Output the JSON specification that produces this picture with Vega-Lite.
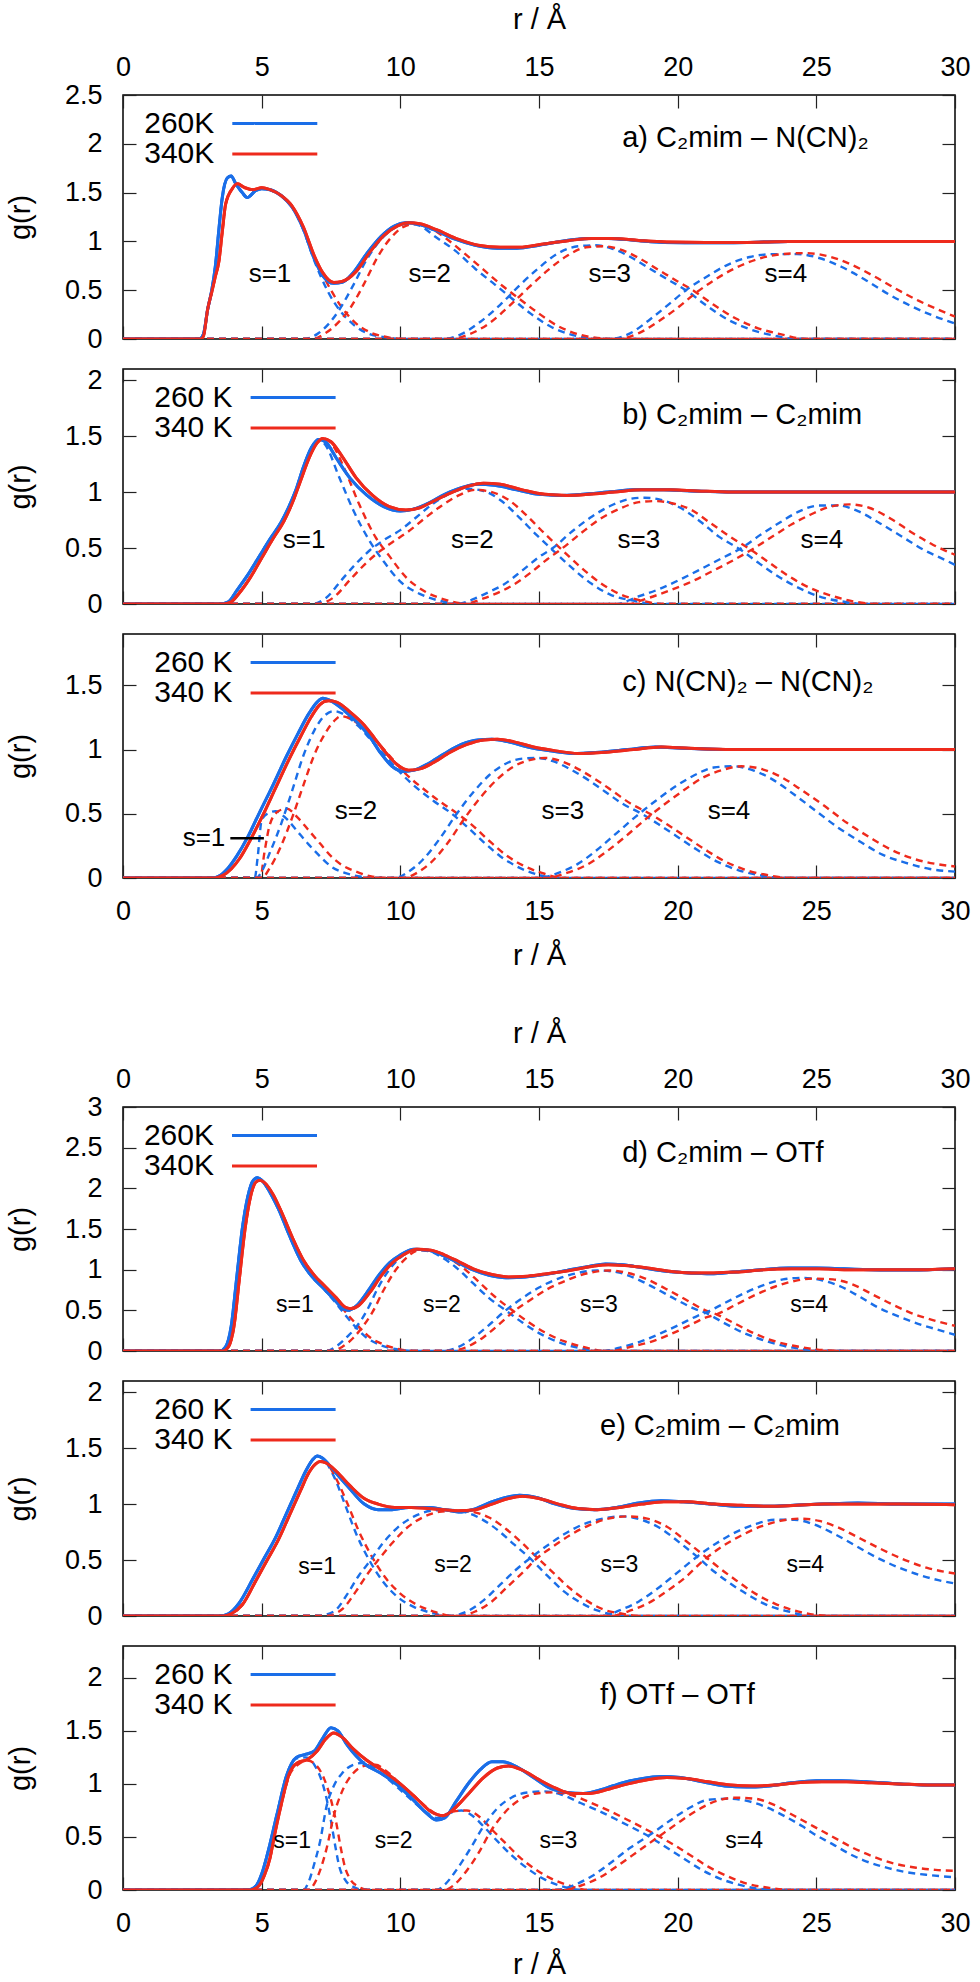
{
"$schema":"https://vega.github.io/schema/vega-lite/v6.json",
"padding":{"left":5,"top":4,"right":5,"bottom":0},
"background":"white",
"bounds":"flush",
"spacing":30,
"datasets":{
"t":[
{"p":"a","k":"title","r":18.0,"g":2.06,"t":"a) C₂mim – N(CN)₂"},
{"p":"a","k":"s","r":5.3,"g":0.67,"t":"s=1"},{"p":"a","k":"s","r":11.06,"g":0.67,"t":"s=2"},{"p":"a","k":"s","r":17.55,"g":0.67,"t":"s=3"},{"p":"a","k":"s","r":23.9,"g":0.67,"t":"s=4"},
{"p":"b","k":"title","r":18.0,"g":1.69,"t":"b) C₂mim – C₂mim"},
{"p":"b","k":"s","r":6.53,"g":0.575,"t":"s=1"},{"p":"b","k":"s","r":12.6,"g":0.575,"t":"s=2"},{"p":"b","k":"s","r":18.6,"g":0.575,"t":"s=3"},{"p":"b","k":"s","r":25.2,"g":0.575,"t":"s=4"},
{"p":"c","k":"title","r":18.0,"g":1.53,"t":"c) N(CN)₂ – N(CN)₂"},
{"p":"c","k":"s","r":2.92,"g":0.31,"t":"s=1"},{"p":"c","k":"s","r":8.4,"g":0.52,"t":"s=2"},{"p":"c","k":"s","r":15.86,"g":0.52,"t":"s=3"},{"p":"c","k":"s","r":21.85,"g":0.52,"t":"s=4"},
{"p":"c","k":"ptr","r":3.87,"r2":5.08,"g":0.31,"t":""},
{"p":"d","k":"title","r":18.0,"g":2.44,"t":"d) C₂mim – OTf"},
{"p":"d","k":"s","r":6.2,"g":0.57,"t":"s=1"},{"p":"d","k":"s","r":11.5,"g":0.57,"t":"s=2"},{"p":"d","k":"s","r":17.16,"g":0.57,"t":"s=3"},{"p":"d","k":"s","r":24.74,"g":0.57,"t":"s=4"},
{"p":"e","k":"title","r":17.2,"g":1.70,"t":"e) C₂mim – C₂mim"},
{"p":"e","k":"s","r":7.0,"g":0.44,"t":"s=1"},{"p":"e","k":"s","r":11.9,"g":0.46,"t":"s=2"},{"p":"e","k":"s","r":17.9,"g":0.46,"t":"s=3"},{"p":"e","k":"s","r":24.6,"g":0.46,"t":"s=4"},
{"p":"f","k":"title","r":17.2,"g":1.84,"t":"f) OTf – OTf"},
{"p":"f","k":"s","r":6.1,"g":0.46,"t":"s=1"},{"p":"f","k":"s","r":9.76,"g":0.46,"t":"s=2"},{"p":"f","k":"s","r":15.7,"g":0.46,"t":"s=3"},{"p":"f","k":"s","r":22.4,"g":0.46,"t":"s=4"}
],
"c":[
{"p":"a","T":"260K","s":0,"r":0,"g":0},{"p":"a","T":"260K","s":0,"r":2.75,"g":0},{"p":"a","T":"260K","s":0,"r":2.9,"g":0.05},{"p":"a","T":"260K","s":0,"r":3.05,"g":0.3},{"p":"a","T":"260K","s":0,"r":3.2,"g":0.5},{"p":"a","T":"260K","s":0,"r":3.34,"g":0.77},{"p":"a","T":"260K","s":0,"r":3.45,"g":1.1},{"p":"a","T":"260K","s":0,"r":3.58,"g":1.45},{"p":"a","T":"260K","s":0,"r":3.76,"g":1.65},{"p":"a","T":"260K","s":0,"r":3.9,"g":1.67},{"p":"a","T":"260K","s":0,"r":4.05,"g":1.6},{"p":"a","T":"260K","s":0,"r":4.3,"g":1.5},{"p":"a","T":"260K","s":0,"r":4.48,"g":1.45},{"p":"a","T":"260K","s":0,"r":4.78,"g":1.52},{"p":"a","T":"260K","s":0,"r":5.0,"g":1.54},{"p":"a","T":"260K","s":0,"r":5.3,"g":1.53},{"p":"a","T":"260K","s":0,"r":5.7,"g":1.47},{"p":"a","T":"260K","s":0,"r":6.1,"g":1.35},{"p":"a","T":"260K","s":0,"r":6.5,"g":1.13},{"p":"a","T":"260K","s":0,"r":6.9,"g":0.82},{"p":"a","T":"260K","s":0,"r":7.2,"g":0.65},{"p":"a","T":"260K","s":0,"r":7.6,"g":0.57},{"p":"a","T":"260K","s":0,"r":7.9,"g":0.58},{"p":"a","T":"260K","s":0,"r":8.3,"g":0.68},{"p":"a","T":"260K","s":0,"r":8.8,"g":0.88},{"p":"a","T":"260K","s":0,"r":9.3,"g":1.05},{"p":"a","T":"260K","s":0,"r":9.8,"g":1.16},{"p":"a","T":"260K","s":0,"r":10.2,"g":1.19},{"p":"a","T":"260K","s":0,"r":10.6,"g":1.18},{"p":"a","T":"260K","s":0,"r":11.2,"g":1.12},{"p":"a","T":"260K","s":0,"r":12.0,"g":1.02},{"p":"a","T":"260K","s":0,"r":12.7,"g":0.96},{"p":"a","T":"260K","s":0,"r":13.5,"g":0.93},{"p":"a","T":"260K","s":0,"r":14.2,"g":0.93},{"p":"a","T":"260K","s":0,"r":15.0,"g":0.96},{"p":"a","T":"260K","s":0,"r":16.0,"g":1.01},{"p":"a","T":"260K","s":0,"r":16.8,"g":1.03},{"p":"a","T":"260K","s":0,"r":17.5,"g":1.03},{"p":"a","T":"260K","s":0,"r":18.5,"g":1.01},{"p":"a","T":"260K","s":0,"r":19.5,"g":0.99},{"p":"a","T":"260K","s":0,"r":21,"g":0.985},{"p":"a","T":"260K","s":0,"r":22.5,"g":0.99},{"p":"a","T":"260K","s":0,"r":24,"g":1.0},{"p":"a","T":"260K","s":0,"r":26,"g":1.0},{"p":"a","T":"260K","s":0,"r":28,"g":1.0},{"p":"a","T":"260K","s":0,"r":30,"g":1.0},
{"p":"a","T":"340K","s":0,"r":0,"g":0},{"p":"a","T":"340K","s":0,"r":2.8,"g":0},{"p":"a","T":"340K","s":0,"r":2.9,"g":0.03},{"p":"a","T":"340K","s":0,"r":3.05,"g":0.3},{"p":"a","T":"340K","s":0,"r":3.2,"g":0.48},{"p":"a","T":"340K","s":0,"r":3.33,"g":0.64},{"p":"a","T":"340K","s":0,"r":3.46,"g":0.8},{"p":"a","T":"340K","s":0,"r":3.58,"g":1.1},{"p":"a","T":"340K","s":0,"r":3.7,"g":1.38},{"p":"a","T":"340K","s":0,"r":3.94,"g":1.54},{"p":"a","T":"340K","s":0,"r":4.12,"g":1.59},{"p":"a","T":"340K","s":0,"r":4.4,"g":1.55},{"p":"a","T":"340K","s":0,"r":4.7,"g":1.53},{"p":"a","T":"340K","s":0,"r":5.0,"g":1.55},{"p":"a","T":"340K","s":0,"r":5.3,"g":1.53},{"p":"a","T":"340K","s":0,"r":5.7,"g":1.47},{"p":"a","T":"340K","s":0,"r":6.1,"g":1.36},{"p":"a","T":"340K","s":0,"r":6.5,"g":1.15},{"p":"a","T":"340K","s":0,"r":6.9,"g":0.85},{"p":"a","T":"340K","s":0,"r":7.2,"g":0.68},{"p":"a","T":"340K","s":0,"r":7.6,"g":0.58},{"p":"a","T":"340K","s":0,"r":7.9,"g":0.59},{"p":"a","T":"340K","s":0,"r":8.4,"g":0.69},{"p":"a","T":"340K","s":0,"r":8.9,"g":0.89},{"p":"a","T":"340K","s":0,"r":9.4,"g":1.06},{"p":"a","T":"340K","s":0,"r":9.9,"g":1.16},{"p":"a","T":"340K","s":0,"r":10.3,"g":1.19},{"p":"a","T":"340K","s":0,"r":10.7,"g":1.18},{"p":"a","T":"340K","s":0,"r":11.3,"g":1.12},{"p":"a","T":"340K","s":0,"r":12.1,"g":1.02},{"p":"a","T":"340K","s":0,"r":12.8,"g":0.96},{"p":"a","T":"340K","s":0,"r":13.6,"g":0.94},{"p":"a","T":"340K","s":0,"r":14.3,"g":0.94},{"p":"a","T":"340K","s":0,"r":15.1,"g":0.97},{"p":"a","T":"340K","s":0,"r":16.1,"g":1.01},{"p":"a","T":"340K","s":0,"r":16.9,"g":1.03},{"p":"a","T":"340K","s":0,"r":17.6,"g":1.03},{"p":"a","T":"340K","s":0,"r":18.6,"g":1.01},{"p":"a","T":"340K","s":0,"r":19.6,"g":0.995},{"p":"a","T":"340K","s":0,"r":21,"g":0.99},{"p":"a","T":"340K","s":0,"r":22.5,"g":0.99},{"p":"a","T":"340K","s":0,"r":24,"g":1.0},{"p":"a","T":"340K","s":0,"r":26,"g":1.0},{"p":"a","T":"340K","s":0,"r":28,"g":1.0},{"p":"a","T":"340K","s":0,"r":30,"g":1.0},
{"p":"a","T":"260K","s":1,"r":0,"g":0},{"p":"a","T":"260K","s":1,"r":2.75,"g":0},{"p":"a","T":"260K","s":1,"r":2.9,"g":0.05},{"p":"a","T":"260K","s":1,"r":3.05,"g":0.3},{"p":"a","T":"260K","s":1,"r":3.2,"g":0.5},{"p":"a","T":"260K","s":1,"r":3.34,"g":0.77},{"p":"a","T":"260K","s":1,"r":3.45,"g":1.1},{"p":"a","T":"260K","s":1,"r":3.58,"g":1.45},{"p":"a","T":"260K","s":1,"r":3.76,"g":1.65},{"p":"a","T":"260K","s":1,"r":3.9,"g":1.67},{"p":"a","T":"260K","s":1,"r":4.05,"g":1.6},{"p":"a","T":"260K","s":1,"r":4.3,"g":1.5},{"p":"a","T":"260K","s":1,"r":4.48,"g":1.45},{"p":"a","T":"260K","s":1,"r":4.78,"g":1.52},{"p":"a","T":"260K","s":1,"r":5.0,"g":1.54},{"p":"a","T":"260K","s":1,"r":5.3,"g":1.53},{"p":"a","T":"260K","s":1,"r":5.7,"g":1.47},{"p":"a","T":"260K","s":1,"r":6.1,"g":1.35},{"p":"a","T":"260K","s":1,"r":6.5,"g":1.12},{"p":"a","T":"260K","s":1,"r":6.9,"g":0.8},{"p":"a","T":"260K","s":1,"r":7.15,"g":0.63},{"p":"a","T":"260K","s":1,"r":7.4,"g":0.48},{"p":"a","T":"260K","s":1,"r":7.8,"g":0.3},{"p":"a","T":"260K","s":1,"r":8.3,"g":0.15},{"p":"a","T":"260K","s":1,"r":8.8,"g":0.06},{"p":"a","T":"260K","s":1,"r":9.4,"g":0.02},{"p":"a","T":"260K","s":1,"r":10,"g":0},{"p":"a","T":"260K","s":1,"r":30,"g":0},
{"p":"a","T":"340K","s":1,"r":0,"g":0},{"p":"a","T":"340K","s":1,"r":2.8,"g":0},{"p":"a","T":"340K","s":1,"r":2.9,"g":0.03},{"p":"a","T":"340K","s":1,"r":3.05,"g":0.3},{"p":"a","T":"340K","s":1,"r":3.2,"g":0.48},{"p":"a","T":"340K","s":1,"r":3.33,"g":0.64},{"p":"a","T":"340K","s":1,"r":3.46,"g":0.8},{"p":"a","T":"340K","s":1,"r":3.58,"g":1.1},{"p":"a","T":"340K","s":1,"r":3.7,"g":1.38},{"p":"a","T":"340K","s":1,"r":3.94,"g":1.54},{"p":"a","T":"340K","s":1,"r":4.12,"g":1.59},{"p":"a","T":"340K","s":1,"r":4.4,"g":1.55},{"p":"a","T":"340K","s":1,"r":4.7,"g":1.53},{"p":"a","T":"340K","s":1,"r":5.0,"g":1.55},{"p":"a","T":"340K","s":1,"r":5.3,"g":1.53},{"p":"a","T":"340K","s":1,"r":5.7,"g":1.47},{"p":"a","T":"340K","s":1,"r":6.1,"g":1.36},{"p":"a","T":"340K","s":1,"r":6.5,"g":1.14},{"p":"a","T":"340K","s":1,"r":6.9,"g":0.83},{"p":"a","T":"340K","s":1,"r":7.2,"g":0.66},{"p":"a","T":"340K","s":1,"r":7.5,"g":0.5},{"p":"a","T":"340K","s":1,"r":7.9,"g":0.32},{"p":"a","T":"340K","s":1,"r":8.4,"g":0.16},{"p":"a","T":"340K","s":1,"r":8.9,"g":0.07},{"p":"a","T":"340K","s":1,"r":9.5,"g":0.02},{"p":"a","T":"340K","s":1,"r":10.2,"g":0},{"p":"a","T":"340K","s":1,"r":30,"g":0},
{"p":"a","T":"260K","s":2,"r":0,"g":0},{"p":"a","T":"260K","s":2,"r":6.5,"g":0},{"p":"a","T":"260K","s":2,"r":7.0,"g":0.05},{"p":"a","T":"260K","s":2,"r":7.4,"g":0.15},{"p":"a","T":"260K","s":2,"r":7.8,"g":0.3},{"p":"a","T":"260K","s":2,"r":8.3,"g":0.55},{"p":"a","T":"260K","s":2,"r":8.8,"g":0.82},{"p":"a","T":"260K","s":2,"r":9.3,"g":1.02},{"p":"a","T":"260K","s":2,"r":9.8,"g":1.14},{"p":"a","T":"260K","s":2,"r":10.2,"g":1.18},{"p":"a","T":"260K","s":2,"r":10.6,"g":1.17},{"p":"a","T":"260K","s":2,"r":11.3,"g":1.04},{"p":"a","T":"260K","s":2,"r":12.0,"g":0.9},{"p":"a","T":"260K","s":2,"r":12.7,"g":0.72},{"p":"a","T":"260K","s":2,"r":13.4,"g":0.56},{"p":"a","T":"260K","s":2,"r":14.0,"g":0.42},{"p":"a","T":"260K","s":2,"r":14.7,"g":0.26},{"p":"a","T":"260K","s":2,"r":15.4,"g":0.13},{"p":"a","T":"260K","s":2,"r":16.1,"g":0.05},{"p":"a","T":"260K","s":2,"r":16.8,"g":0.01},{"p":"a","T":"260K","s":2,"r":17.5,"g":0},{"p":"a","T":"260K","s":2,"r":30,"g":0},
{"p":"a","T":"340K","s":2,"r":0,"g":0},{"p":"a","T":"340K","s":2,"r":6.8,"g":0},{"p":"a","T":"340K","s":2,"r":7.3,"g":0.06},{"p":"a","T":"340K","s":2,"r":7.8,"g":0.18},{"p":"a","T":"340K","s":2,"r":8.2,"g":0.32},{"p":"a","T":"340K","s":2,"r":8.7,"g":0.57},{"p":"a","T":"340K","s":2,"r":9.2,"g":0.85},{"p":"a","T":"340K","s":2,"r":9.7,"g":1.05},{"p":"a","T":"340K","s":2,"r":10.2,"g":1.16},{"p":"a","T":"340K","s":2,"r":10.6,"g":1.18},{"p":"a","T":"340K","s":2,"r":11.0,"g":1.15},{"p":"a","T":"340K","s":2,"r":11.6,"g":1.04},{"p":"a","T":"340K","s":2,"r":12.3,"g":0.88},{"p":"a","T":"340K","s":2,"r":13.0,"g":0.71},{"p":"a","T":"340K","s":2,"r":13.7,"g":0.54},{"p":"a","T":"340K","s":2,"r":14.3,"g":0.41},{"p":"a","T":"340K","s":2,"r":15.0,"g":0.26},{"p":"a","T":"340K","s":2,"r":15.7,"g":0.13},{"p":"a","T":"340K","s":2,"r":16.4,"g":0.05},{"p":"a","T":"340K","s":2,"r":17.1,"g":0.01},{"p":"a","T":"340K","s":2,"r":17.8,"g":0},{"p":"a","T":"340K","s":2,"r":30,"g":0},
{"p":"a","T":"260K","s":3,"r":0,"g":0},{"p":"a","T":"260K","s":3,"r":11.5,"g":0},{"p":"a","T":"260K","s":3,"r":12.2,"g":0.05},{"p":"a","T":"260K","s":3,"r":12.9,"g":0.18},{"p":"a","T":"260K","s":3,"r":13.6,"g":0.35},{"p":"a","T":"260K","s":3,"r":14.3,"g":0.55},{"p":"a","T":"260K","s":3,"r":15.0,"g":0.73},{"p":"a","T":"260K","s":3,"r":15.7,"g":0.88},{"p":"a","T":"260K","s":3,"r":16.4,"g":0.95},{"p":"a","T":"260K","s":3,"r":17.0,"g":0.96},{"p":"a","T":"260K","s":3,"r":17.6,"g":0.93},{"p":"a","T":"260K","s":3,"r":18.3,"g":0.84},{"p":"a","T":"260K","s":3,"r":19.0,"g":0.72},{"p":"a","T":"260K","s":3,"r":19.7,"g":0.6},{"p":"a","T":"260K","s":3,"r":20.3,"g":0.5},{"p":"a","T":"260K","s":3,"r":21.0,"g":0.35},{"p":"a","T":"260K","s":3,"r":21.8,"g":0.2},{"p":"a","T":"260K","s":3,"r":22.6,"g":0.1},{"p":"a","T":"260K","s":3,"r":23.4,"g":0.04},{"p":"a","T":"260K","s":3,"r":24.3,"g":0},{"p":"a","T":"260K","s":3,"r":30,"g":0},
{"p":"a","T":"340K","s":3,"r":0,"g":0},{"p":"a","T":"340K","s":3,"r":11.8,"g":0},{"p":"a","T":"340K","s":3,"r":12.5,"g":0.05},{"p":"a","T":"340K","s":3,"r":13.2,"g":0.16},{"p":"a","T":"340K","s":3,"r":13.9,"g":0.33},{"p":"a","T":"340K","s":3,"r":14.6,"g":0.52},{"p":"a","T":"340K","s":3,"r":15.3,"g":0.7},{"p":"a","T":"340K","s":3,"r":16.0,"g":0.85},{"p":"a","T":"340K","s":3,"r":16.7,"g":0.94},{"p":"a","T":"340K","s":3,"r":17.3,"g":0.95},{"p":"a","T":"340K","s":3,"r":17.9,"g":0.92},{"p":"a","T":"340K","s":3,"r":18.6,"g":0.83},{"p":"a","T":"340K","s":3,"r":19.3,"g":0.71},{"p":"a","T":"340K","s":3,"r":20.0,"g":0.59},{"p":"a","T":"340K","s":3,"r":20.6,"g":0.49},{"p":"a","T":"340K","s":3,"r":21.3,"g":0.35},{"p":"a","T":"340K","s":3,"r":22.1,"g":0.21},{"p":"a","T":"340K","s":3,"r":22.9,"g":0.11},{"p":"a","T":"340K","s":3,"r":23.7,"g":0.05},{"p":"a","T":"340K","s":3,"r":24.6,"g":0},{"p":"a","T":"340K","s":3,"r":30,"g":0},
{"p":"a","T":"260K","s":4,"r":0,"g":0},{"p":"a","T":"260K","s":4,"r":17.5,"g":0},{"p":"a","T":"260K","s":4,"r":18.3,"g":0.06},{"p":"a","T":"260K","s":4,"r":19.0,"g":0.2},{"p":"a","T":"260K","s":4,"r":19.7,"g":0.36},{"p":"a","T":"260K","s":4,"r":20.3,"g":0.5},{"p":"a","T":"260K","s":4,"r":21.0,"g":0.63},{"p":"a","T":"260K","s":4,"r":21.8,"g":0.76},{"p":"a","T":"260K","s":4,"r":22.6,"g":0.84},{"p":"a","T":"260K","s":4,"r":23.5,"g":0.87},{"p":"a","T":"260K","s":4,"r":24.3,"g":0.87},{"p":"a","T":"260K","s":4,"r":25.1,"g":0.83},{"p":"a","T":"260K","s":4,"r":25.9,"g":0.74},{"p":"a","T":"260K","s":4,"r":26.8,"g":0.6},{"p":"a","T":"260K","s":4,"r":27.6,"g":0.46},{"p":"a","T":"260K","s":4,"r":28.4,"g":0.34},{"p":"a","T":"260K","s":4,"r":29.2,"g":0.24},{"p":"a","T":"260K","s":4,"r":30,"g":0.16},
{"p":"a","T":"340K","s":4,"r":0,"g":0},{"p":"a","T":"340K","s":4,"r":17.8,"g":0},{"p":"a","T":"340K","s":4,"r":18.6,"g":0.06},{"p":"a","T":"340K","s":4,"r":19.3,"g":0.18},{"p":"a","T":"340K","s":4,"r":20.0,"g":0.32},{"p":"a","T":"340K","s":4,"r":20.6,"g":0.46},{"p":"a","T":"340K","s":4,"r":21.3,"g":0.6},{"p":"a","T":"340K","s":4,"r":22.1,"g":0.73},{"p":"a","T":"340K","s":4,"r":22.9,"g":0.82},{"p":"a","T":"340K","s":4,"r":23.8,"g":0.87},{"p":"a","T":"340K","s":4,"r":24.6,"g":0.88},{"p":"a","T":"340K","s":4,"r":25.4,"g":0.85},{"p":"a","T":"340K","s":4,"r":26.2,"g":0.77},{"p":"a","T":"340K","s":4,"r":27.1,"g":0.64},{"p":"a","T":"340K","s":4,"r":27.9,"g":0.51},{"p":"a","T":"340K","s":4,"r":28.7,"g":0.39},{"p":"a","T":"340K","s":4,"r":29.4,"g":0.3},{"p":"a","T":"340K","s":4,"r":30,"g":0.23},

{"p":"b","T":"260 K","s":0,"r":0,"g":0},{"p":"b","T":"260 K","s":0,"r":3.5,"g":0},{"p":"b","T":"260 K","s":0,"r":3.8,"g":0.02},{"p":"b","T":"260 K","s":0,"r":4.1,"g":0.12},{"p":"b","T":"260 K","s":0,"r":4.5,"g":0.26},{"p":"b","T":"260 K","s":0,"r":4.9,"g":0.42},{"p":"b","T":"260 K","s":0,"r":5.3,"g":0.58},{"p":"b","T":"260 K","s":0,"r":5.7,"g":0.73},{"p":"b","T":"260 K","s":0,"r":6.0,"g":0.88},{"p":"b","T":"260 K","s":0,"r":6.25,"g":1.03},{"p":"b","T":"260 K","s":0,"r":6.5,"g":1.22},{"p":"b","T":"260 K","s":0,"r":6.8,"g":1.4},{"p":"b","T":"260 K","s":0,"r":7.05,"g":1.47},{"p":"b","T":"260 K","s":0,"r":7.3,"g":1.45},{"p":"b","T":"260 K","s":0,"r":7.7,"g":1.3},{"p":"b","T":"260 K","s":0,"r":8.2,"g":1.12},{"p":"b","T":"260 K","s":0,"r":8.8,"g":0.97},{"p":"b","T":"260 K","s":0,"r":9.4,"g":0.87},{"p":"b","T":"260 K","s":0,"r":10.0,"g":0.83},{"p":"b","T":"260 K","s":0,"r":10.5,"g":0.85},{"p":"b","T":"260 K","s":0,"r":11.0,"g":0.9},{"p":"b","T":"260 K","s":0,"r":11.6,"g":0.98},{"p":"b","T":"260 K","s":0,"r":12.2,"g":1.04},{"p":"b","T":"260 K","s":0,"r":12.8,"g":1.07},{"p":"b","T":"260 K","s":0,"r":13.4,"g":1.06},{"p":"b","T":"260 K","s":0,"r":14.2,"g":1.02},{"p":"b","T":"260 K","s":0,"r":15.0,"g":0.98},{"p":"b","T":"260 K","s":0,"r":15.8,"g":0.97},{"p":"b","T":"260 K","s":0,"r":16.6,"g":0.98},{"p":"b","T":"260 K","s":0,"r":17.5,"g":1.0},{"p":"b","T":"260 K","s":0,"r":18.5,"g":1.02},{"p":"b","T":"260 K","s":0,"r":19.5,"g":1.02},{"p":"b","T":"260 K","s":0,"r":20.5,"g":1.01},{"p":"b","T":"260 K","s":0,"r":22,"g":1.0},{"p":"b","T":"260 K","s":0,"r":24,"g":1.0},{"p":"b","T":"260 K","s":0,"r":27,"g":1.0},{"p":"b","T":"260 K","s":0,"r":30,"g":1.0},
{"p":"b","T":"340 K","s":0,"r":0,"g":0},{"p":"b","T":"340 K","s":0,"r":3.6,"g":0},{"p":"b","T":"340 K","s":0,"r":3.9,"g":0.02},{"p":"b","T":"340 K","s":0,"r":4.2,"g":0.1},{"p":"b","T":"340 K","s":0,"r":4.6,"g":0.24},{"p":"b","T":"340 K","s":0,"r":5.0,"g":0.41},{"p":"b","T":"340 K","s":0,"r":5.4,"g":0.58},{"p":"b","T":"340 K","s":0,"r":5.8,"g":0.74},{"p":"b","T":"340 K","s":0,"r":6.1,"g":0.9},{"p":"b","T":"340 K","s":0,"r":6.4,"g":1.1},{"p":"b","T":"340 K","s":0,"r":6.7,"g":1.3},{"p":"b","T":"340 K","s":0,"r":7.0,"g":1.44},{"p":"b","T":"340 K","s":0,"r":7.2,"g":1.48},{"p":"b","T":"340 K","s":0,"r":7.5,"g":1.45},{"p":"b","T":"340 K","s":0,"r":7.9,"g":1.32},{"p":"b","T":"340 K","s":0,"r":8.4,"g":1.13},{"p":"b","T":"340 K","s":0,"r":9.0,"g":0.97},{"p":"b","T":"340 K","s":0,"r":9.6,"g":0.87},{"p":"b","T":"340 K","s":0,"r":10.2,"g":0.84},{"p":"b","T":"340 K","s":0,"r":10.7,"g":0.86},{"p":"b","T":"340 K","s":0,"r":11.2,"g":0.92},{"p":"b","T":"340 K","s":0,"r":11.8,"g":0.99},{"p":"b","T":"340 K","s":0,"r":12.4,"g":1.05},{"p":"b","T":"340 K","s":0,"r":13.0,"g":1.08},{"p":"b","T":"340 K","s":0,"r":13.6,"g":1.07},{"p":"b","T":"340 K","s":0,"r":14.4,"g":1.02},{"p":"b","T":"340 K","s":0,"r":15.2,"g":0.98},{"p":"b","T":"340 K","s":0,"r":16.0,"g":0.97},{"p":"b","T":"340 K","s":0,"r":16.8,"g":0.98},{"p":"b","T":"340 K","s":0,"r":17.7,"g":1.0},{"p":"b","T":"340 K","s":0,"r":18.7,"g":1.02},{"p":"b","T":"340 K","s":0,"r":19.7,"g":1.02},{"p":"b","T":"340 K","s":0,"r":20.7,"g":1.01},{"p":"b","T":"340 K","s":0,"r":22,"g":1.0},{"p":"b","T":"340 K","s":0,"r":24,"g":1.0},{"p":"b","T":"340 K","s":0,"r":27,"g":1.0},{"p":"b","T":"340 K","s":0,"r":30,"g":1.0},
{"p":"b","T":"260 K","s":1,"r":0,"g":0},{"p":"b","T":"260 K","s":1,"r":3.5,"g":0},{"p":"b","T":"260 K","s":1,"r":3.8,"g":0.02},{"p":"b","T":"260 K","s":1,"r":4.1,"g":0.12},{"p":"b","T":"260 K","s":1,"r":4.5,"g":0.26},{"p":"b","T":"260 K","s":1,"r":4.9,"g":0.42},{"p":"b","T":"260 K","s":1,"r":5.3,"g":0.58},{"p":"b","T":"260 K","s":1,"r":5.7,"g":0.73},{"p":"b","T":"260 K","s":1,"r":6.0,"g":0.88},{"p":"b","T":"260 K","s":1,"r":6.25,"g":1.03},{"p":"b","T":"260 K","s":1,"r":6.5,"g":1.22},{"p":"b","T":"260 K","s":1,"r":6.8,"g":1.4},{"p":"b","T":"260 K","s":1,"r":7.05,"g":1.47},{"p":"b","T":"260 K","s":1,"r":7.3,"g":1.42},{"p":"b","T":"260 K","s":1,"r":7.8,"g":1.13},{"p":"b","T":"260 K","s":1,"r":8.3,"g":0.84},{"p":"b","T":"260 K","s":1,"r":8.9,"g":0.56},{"p":"b","T":"260 K","s":1,"r":9.4,"g":0.38},{"p":"b","T":"260 K","s":1,"r":10.0,"g":0.2},{"p":"b","T":"260 K","s":1,"r":10.7,"g":0.09},{"p":"b","T":"260 K","s":1,"r":11.4,"g":0.03},{"p":"b","T":"260 K","s":1,"r":12.2,"g":0},{"p":"b","T":"260 K","s":1,"r":30,"g":0},
{"p":"b","T":"340 K","s":1,"r":0,"g":0},{"p":"b","T":"340 K","s":1,"r":3.6,"g":0},{"p":"b","T":"340 K","s":1,"r":3.9,"g":0.02},{"p":"b","T":"340 K","s":1,"r":4.2,"g":0.1},{"p":"b","T":"340 K","s":1,"r":4.6,"g":0.24},{"p":"b","T":"340 K","s":1,"r":5.0,"g":0.41},{"p":"b","T":"340 K","s":1,"r":5.4,"g":0.58},{"p":"b","T":"340 K","s":1,"r":5.8,"g":0.74},{"p":"b","T":"340 K","s":1,"r":6.1,"g":0.9},{"p":"b","T":"340 K","s":1,"r":6.4,"g":1.1},{"p":"b","T":"340 K","s":1,"r":6.7,"g":1.3},{"p":"b","T":"340 K","s":1,"r":7.0,"g":1.44},{"p":"b","T":"340 K","s":1,"r":7.2,"g":1.48},{"p":"b","T":"340 K","s":1,"r":7.5,"g":1.44},{"p":"b","T":"340 K","s":1,"r":8.0,"g":1.2},{"p":"b","T":"340 K","s":1,"r":8.5,"g":0.9},{"p":"b","T":"340 K","s":1,"r":9.1,"g":0.6},{"p":"b","T":"340 K","s":1,"r":9.6,"g":0.43},{"p":"b","T":"340 K","s":1,"r":10.2,"g":0.24},{"p":"b","T":"340 K","s":1,"r":10.9,"g":0.11},{"p":"b","T":"340 K","s":1,"r":11.6,"g":0.04},{"p":"b","T":"340 K","s":1,"r":12.5,"g":0},{"p":"b","T":"340 K","s":1,"r":30,"g":0},
{"p":"b","T":"260 K","s":2,"r":0,"g":0},{"p":"b","T":"260 K","s":2,"r":6.8,"g":0},{"p":"b","T":"260 K","s":2,"r":7.3,"g":0.05},{"p":"b","T":"260 K","s":2,"r":7.9,"g":0.22},{"p":"b","T":"260 K","s":2,"r":8.4,"g":0.36},{"p":"b","T":"260 K","s":2,"r":8.9,"g":0.48},{"p":"b","T":"260 K","s":2,"r":9.4,"g":0.57},{"p":"b","T":"260 K","s":2,"r":10.0,"g":0.66},{"p":"b","T":"260 K","s":2,"r":10.6,"g":0.78},{"p":"b","T":"260 K","s":2,"r":11.2,"g":0.9},{"p":"b","T":"260 K","s":2,"r":11.8,"g":0.99},{"p":"b","T":"260 K","s":2,"r":12.4,"g":1.03},{"p":"b","T":"260 K","s":2,"r":13.0,"g":1.01},{"p":"b","T":"260 K","s":2,"r":13.6,"g":0.93},{"p":"b","T":"260 K","s":2,"r":14.3,"g":0.77},{"p":"b","T":"260 K","s":2,"r":14.9,"g":0.62},{"p":"b","T":"260 K","s":2,"r":15.5,"g":0.48},{"p":"b","T":"260 K","s":2,"r":16.2,"g":0.32},{"p":"b","T":"260 K","s":2,"r":16.9,"g":0.18},{"p":"b","T":"260 K","s":2,"r":17.6,"g":0.08},{"p":"b","T":"260 K","s":2,"r":18.4,"g":0.03},{"p":"b","T":"260 K","s":2,"r":19.2,"g":0},{"p":"b","T":"260 K","s":2,"r":30,"g":0},
{"p":"b","T":"340 K","s":2,"r":0,"g":0},{"p":"b","T":"340 K","s":2,"r":7.0,"g":0},{"p":"b","T":"340 K","s":2,"r":7.6,"g":0.06},{"p":"b","T":"340 K","s":2,"r":8.2,"g":0.22},{"p":"b","T":"340 K","s":2,"r":8.7,"g":0.35},{"p":"b","T":"340 K","s":2,"r":9.2,"g":0.46},{"p":"b","T":"340 K","s":2,"r":9.7,"g":0.55},{"p":"b","T":"340 K","s":2,"r":10.3,"g":0.65},{"p":"b","T":"340 K","s":2,"r":10.9,"g":0.77},{"p":"b","T":"340 K","s":2,"r":11.5,"g":0.88},{"p":"b","T":"340 K","s":2,"r":12.1,"g":0.97},{"p":"b","T":"340 K","s":2,"r":12.7,"g":1.02},{"p":"b","T":"340 K","s":2,"r":13.3,"g":1.0},{"p":"b","T":"340 K","s":2,"r":13.9,"g":0.93},{"p":"b","T":"340 K","s":2,"r":14.6,"g":0.78},{"p":"b","T":"340 K","s":2,"r":15.2,"g":0.63},{"p":"b","T":"340 K","s":2,"r":15.8,"g":0.49},{"p":"b","T":"340 K","s":2,"r":16.5,"g":0.33},{"p":"b","T":"340 K","s":2,"r":17.2,"g":0.19},{"p":"b","T":"340 K","s":2,"r":17.9,"g":0.09},{"p":"b","T":"340 K","s":2,"r":18.7,"g":0.03},{"p":"b","T":"340 K","s":2,"r":19.5,"g":0},{"p":"b","T":"340 K","s":2,"r":30,"g":0},
{"p":"b","T":"260 K","s":3,"r":0,"g":0},{"p":"b","T":"260 K","s":3,"r":12.0,"g":0},{"p":"b","T":"260 K","s":3,"r":12.7,"g":0.05},{"p":"b","T":"260 K","s":3,"r":13.3,"g":0.12},{"p":"b","T":"260 K","s":3,"r":13.7,"g":0.17},{"p":"b","T":"260 K","s":3,"r":14.4,"g":0.3},{"p":"b","T":"260 K","s":3,"r":15.0,"g":0.42},{"p":"b","T":"260 K","s":3,"r":15.5,"g":0.5},{"p":"b","T":"260 K","s":3,"r":16.2,"g":0.65},{"p":"b","T":"260 K","s":3,"r":16.9,"g":0.78},{"p":"b","T":"260 K","s":3,"r":17.6,"g":0.88},{"p":"b","T":"260 K","s":3,"r":18.3,"g":0.94},{"p":"b","T":"260 K","s":3,"r":18.8,"g":0.95},{"p":"b","T":"260 K","s":3,"r":19.4,"g":0.93},{"p":"b","T":"260 K","s":3,"r":20.1,"g":0.86},{"p":"b","T":"260 K","s":3,"r":20.8,"g":0.74},{"p":"b","T":"260 K","s":3,"r":21.5,"g":0.6},{"p":"b","T":"260 K","s":3,"r":22.3,"g":0.48},{"p":"b","T":"260 K","s":3,"r":22.9,"g":0.37},{"p":"b","T":"260 K","s":3,"r":23.6,"g":0.25},{"p":"b","T":"260 K","s":3,"r":24.4,"g":0.14},{"p":"b","T":"260 K","s":3,"r":25.2,"g":0.06},{"p":"b","T":"260 K","s":3,"r":26.0,"g":0.02},{"p":"b","T":"260 K","s":3,"r":26.8,"g":0},{"p":"b","T":"260 K","s":3,"r":30,"g":0},
{"p":"b","T":"340 K","s":3,"r":0,"g":0},{"p":"b","T":"340 K","s":3,"r":12.3,"g":0},{"p":"b","T":"340 K","s":3,"r":13.0,"g":0.05},{"p":"b","T":"340 K","s":3,"r":13.6,"g":0.11},{"p":"b","T":"340 K","s":3,"r":14.0,"g":0.16},{"p":"b","T":"340 K","s":3,"r":14.7,"g":0.28},{"p":"b","T":"340 K","s":3,"r":15.3,"g":0.4},{"p":"b","T":"340 K","s":3,"r":15.8,"g":0.49},{"p":"b","T":"340 K","s":3,"r":16.5,"g":0.63},{"p":"b","T":"340 K","s":3,"r":17.2,"g":0.76},{"p":"b","T":"340 K","s":3,"r":17.9,"g":0.85},{"p":"b","T":"340 K","s":3,"r":18.6,"g":0.91},{"p":"b","T":"340 K","s":3,"r":19.2,"g":0.92},{"p":"b","T":"340 K","s":3,"r":19.8,"g":0.9},{"p":"b","T":"340 K","s":3,"r":20.5,"g":0.84},{"p":"b","T":"340 K","s":3,"r":21.2,"g":0.72},{"p":"b","T":"340 K","s":3,"r":21.9,"g":0.6},{"p":"b","T":"340 K","s":3,"r":22.6,"g":0.49},{"p":"b","T":"340 K","s":3,"r":23.3,"g":0.37},{"p":"b","T":"340 K","s":3,"r":24.0,"g":0.25},{"p":"b","T":"340 K","s":3,"r":24.8,"g":0.14},{"p":"b","T":"340 K","s":3,"r":25.6,"g":0.07},{"p":"b","T":"340 K","s":3,"r":26.4,"g":0.02},{"p":"b","T":"340 K","s":3,"r":27.2,"g":0},{"p":"b","T":"340 K","s":3,"r":30,"g":0},
{"p":"b","T":"260 K","s":4,"r":0,"g":0},{"p":"b","T":"260 K","s":4,"r":17.8,"g":0},{"p":"b","T":"260 K","s":4,"r":18.5,"g":0.06},{"p":"b","T":"260 K","s":4,"r":19.3,"g":0.13},{"p":"b","T":"260 K","s":4,"r":20.1,"g":0.22},{"p":"b","T":"260 K","s":4,"r":20.9,"g":0.32},{"p":"b","T":"260 K","s":4,"r":21.6,"g":0.41},{"p":"b","T":"260 K","s":4,"r":22.3,"g":0.5},{"p":"b","T":"260 K","s":4,"r":23.0,"g":0.62},{"p":"b","T":"260 K","s":4,"r":23.7,"g":0.73},{"p":"b","T":"260 K","s":4,"r":24.4,"g":0.83},{"p":"b","T":"260 K","s":4,"r":25.1,"g":0.88},{"p":"b","T":"260 K","s":4,"r":25.8,"g":0.88},{"p":"b","T":"260 K","s":4,"r":26.5,"g":0.83},{"p":"b","T":"260 K","s":4,"r":27.3,"g":0.72},{"p":"b","T":"260 K","s":4,"r":28.1,"g":0.6},{"p":"b","T":"260 K","s":4,"r":28.9,"g":0.48},{"p":"b","T":"260 K","s":4,"r":29.5,"g":0.41},{"p":"b","T":"260 K","s":4,"r":30,"g":0.35},
{"p":"b","T":"340 K","s":4,"r":0,"g":0},{"p":"b","T":"340 K","s":4,"r":18.2,"g":0},{"p":"b","T":"340 K","s":4,"r":18.9,"g":0.05},{"p":"b","T":"340 K","s":4,"r":19.7,"g":0.12},{"p":"b","T":"340 K","s":4,"r":20.5,"g":0.2},{"p":"b","T":"340 K","s":4,"r":21.3,"g":0.3},{"p":"b","T":"340 K","s":4,"r":22.0,"g":0.39},{"p":"b","T":"340 K","s":4,"r":22.7,"g":0.49},{"p":"b","T":"340 K","s":4,"r":23.4,"g":0.6},{"p":"b","T":"340 K","s":4,"r":24.1,"g":0.71},{"p":"b","T":"340 K","s":4,"r":24.8,"g":0.8},{"p":"b","T":"340 K","s":4,"r":25.5,"g":0.87},{"p":"b","T":"340 K","s":4,"r":26.2,"g":0.89},{"p":"b","T":"340 K","s":4,"r":26.9,"g":0.86},{"p":"b","T":"340 K","s":4,"r":27.7,"g":0.76},{"p":"b","T":"340 K","s":4,"r":28.5,"g":0.63},{"p":"b","T":"340 K","s":4,"r":29.2,"g":0.53},{"p":"b","T":"340 K","s":4,"r":30,"g":0.44},

{"p":"c","T":"260 K","s":0,"r":0,"g":0},{"p":"c","T":"260 K","s":0,"r":3.2,"g":0},{"p":"c","T":"260 K","s":0,"r":3.5,"g":0.02},{"p":"c","T":"260 K","s":0,"r":3.8,"g":0.08},{"p":"c","T":"260 K","s":0,"r":4.1,"g":0.17},{"p":"c","T":"260 K","s":0,"r":4.5,"g":0.32},{"p":"c","T":"260 K","s":0,"r":4.9,"g":0.5},{"p":"c","T":"260 K","s":0,"r":5.4,"g":0.72},{"p":"c","T":"260 K","s":0,"r":5.9,"g":0.95},{"p":"c","T":"260 K","s":0,"r":6.3,"g":1.12},{"p":"c","T":"260 K","s":0,"r":6.7,"g":1.28},{"p":"c","T":"260 K","s":0,"r":7.0,"g":1.37},{"p":"c","T":"260 K","s":0,"r":7.2,"g":1.4},{"p":"c","T":"260 K","s":0,"r":7.5,"g":1.38},{"p":"c","T":"260 K","s":0,"r":8.0,"g":1.3},{"p":"c","T":"260 K","s":0,"r":8.5,"g":1.2},{"p":"c","T":"260 K","s":0,"r":8.9,"g":1.1},{"p":"c","T":"260 K","s":0,"r":9.3,"g":0.97},{"p":"c","T":"260 K","s":0,"r":9.7,"g":0.87},{"p":"c","T":"260 K","s":0,"r":10.1,"g":0.83},{"p":"c","T":"260 K","s":0,"r":10.5,"g":0.84},{"p":"c","T":"260 K","s":0,"r":11.0,"g":0.89},{"p":"c","T":"260 K","s":0,"r":11.6,"g":0.97},{"p":"c","T":"260 K","s":0,"r":12.2,"g":1.04},{"p":"c","T":"260 K","s":0,"r":12.8,"g":1.075},{"p":"c","T":"260 K","s":0,"r":13.3,"g":1.08},{"p":"c","T":"260 K","s":0,"r":13.9,"g":1.06},{"p":"c","T":"260 K","s":0,"r":14.6,"g":1.02},{"p":"c","T":"260 K","s":0,"r":15.4,"g":0.99},{"p":"c","T":"260 K","s":0,"r":16.2,"g":0.97},{"p":"c","T":"260 K","s":0,"r":17.2,"g":0.98},{"p":"c","T":"260 K","s":0,"r":18.2,"g":1.0},{"p":"c","T":"260 K","s":0,"r":19.2,"g":1.02},{"p":"c","T":"260 K","s":0,"r":20.2,"g":1.01},{"p":"c","T":"260 K","s":0,"r":22,"g":1.0},{"p":"c","T":"260 K","s":0,"r":24,"g":1.0},{"p":"c","T":"260 K","s":0,"r":27,"g":1.0},{"p":"c","T":"260 K","s":0,"r":30,"g":1.0},
{"p":"c","T":"340 K","s":0,"r":0,"g":0},{"p":"c","T":"340 K","s":0,"r":3.3,"g":0},{"p":"c","T":"340 K","s":0,"r":3.6,"g":0.02},{"p":"c","T":"340 K","s":0,"r":3.9,"g":0.07},{"p":"c","T":"340 K","s":0,"r":4.2,"g":0.15},{"p":"c","T":"340 K","s":0,"r":4.6,"g":0.3},{"p":"c","T":"340 K","s":0,"r":5.0,"g":0.47},{"p":"c","T":"340 K","s":0,"r":5.5,"g":0.7},{"p":"c","T":"340 K","s":0,"r":6.0,"g":0.93},{"p":"c","T":"340 K","s":0,"r":6.4,"g":1.1},{"p":"c","T":"340 K","s":0,"r":6.8,"g":1.26},{"p":"c","T":"340 K","s":0,"r":7.1,"g":1.35},{"p":"c","T":"340 K","s":0,"r":7.4,"g":1.38},{"p":"c","T":"340 K","s":0,"r":7.7,"g":1.37},{"p":"c","T":"340 K","s":0,"r":8.2,"g":1.29},{"p":"c","T":"340 K","s":0,"r":8.7,"g":1.19},{"p":"c","T":"340 K","s":0,"r":9.1,"g":1.08},{"p":"c","T":"340 K","s":0,"r":9.5,"g":0.97},{"p":"c","T":"340 K","s":0,"r":9.9,"g":0.88},{"p":"c","T":"340 K","s":0,"r":10.3,"g":0.84},{"p":"c","T":"340 K","s":0,"r":10.7,"g":0.85},{"p":"c","T":"340 K","s":0,"r":11.2,"g":0.9},{"p":"c","T":"340 K","s":0,"r":11.8,"g":0.98},{"p":"c","T":"340 K","s":0,"r":12.4,"g":1.04},{"p":"c","T":"340 K","s":0,"r":13.0,"g":1.075},{"p":"c","T":"340 K","s":0,"r":13.5,"g":1.08},{"p":"c","T":"340 K","s":0,"r":14.1,"g":1.06},{"p":"c","T":"340 K","s":0,"r":14.8,"g":1.02},{"p":"c","T":"340 K","s":0,"r":15.6,"g":0.99},{"p":"c","T":"340 K","s":0,"r":16.4,"g":0.97},{"p":"c","T":"340 K","s":0,"r":17.4,"g":0.98},{"p":"c","T":"340 K","s":0,"r":18.4,"g":1.0},{"p":"c","T":"340 K","s":0,"r":19.4,"g":1.02},{"p":"c","T":"340 K","s":0,"r":20.4,"g":1.01},{"p":"c","T":"340 K","s":0,"r":22,"g":1.0},{"p":"c","T":"340 K","s":0,"r":24,"g":1.0},{"p":"c","T":"340 K","s":0,"r":27,"g":1.0},{"p":"c","T":"340 K","s":0,"r":30,"g":1.0},
{"p":"c","T":"260 K","s":1,"r":0,"g":0},{"p":"c","T":"260 K","s":1,"r":4.75,"g":0},{"p":"c","T":"260 K","s":1,"r":4.85,"g":0.15},{"p":"c","T":"260 K","s":1,"r":5.0,"g":0.45},{"p":"c","T":"260 K","s":1,"r":5.2,"g":0.5},{"p":"c","T":"260 K","s":1,"r":5.5,"g":0.52},{"p":"c","T":"260 K","s":1,"r":5.9,"g":0.46},{"p":"c","T":"260 K","s":1,"r":6.3,"g":0.36},{"p":"c","T":"260 K","s":1,"r":6.7,"g":0.26},{"p":"c","T":"260 K","s":1,"r":7.1,"g":0.17},{"p":"c","T":"260 K","s":1,"r":7.5,"g":0.09},{"p":"c","T":"260 K","s":1,"r":8.0,"g":0.04},{"p":"c","T":"260 K","s":1,"r":8.6,"g":0.01},{"p":"c","T":"260 K","s":1,"r":9.2,"g":0},{"p":"c","T":"260 K","s":1,"r":30,"g":0},
{"p":"c","T":"340 K","s":1,"r":0,"g":0},{"p":"c","T":"340 K","s":1,"r":4.95,"g":0},{"p":"c","T":"340 K","s":1,"r":5.1,"g":0.2},{"p":"c","T":"340 K","s":1,"r":5.3,"g":0.42},{"p":"c","T":"340 K","s":1,"r":5.6,"g":0.52},{"p":"c","T":"340 K","s":1,"r":5.9,"g":0.54},{"p":"c","T":"340 K","s":1,"r":6.3,"g":0.47},{"p":"c","T":"340 K","s":1,"r":6.7,"g":0.37},{"p":"c","T":"340 K","s":1,"r":7.1,"g":0.27},{"p":"c","T":"340 K","s":1,"r":7.5,"g":0.17},{"p":"c","T":"340 K","s":1,"r":7.9,"g":0.1},{"p":"c","T":"340 K","s":1,"r":8.4,"g":0.05},{"p":"c","T":"340 K","s":1,"r":9.0,"g":0.01},{"p":"c","T":"340 K","s":1,"r":9.6,"g":0},{"p":"c","T":"340 K","s":1,"r":30,"g":0},
{"p":"c","T":"260 K","s":2,"r":0,"g":0},{"p":"c","T":"260 K","s":2,"r":4.8,"g":0},{"p":"c","T":"260 K","s":2,"r":5.0,"g":0.05},{"p":"c","T":"260 K","s":2,"r":5.3,"g":0.2},{"p":"c","T":"260 K","s":2,"r":5.7,"g":0.42},{"p":"c","T":"260 K","s":2,"r":6.1,"g":0.68},{"p":"c","T":"260 K","s":2,"r":6.5,"g":0.95},{"p":"c","T":"260 K","s":2,"r":6.9,"g":1.15},{"p":"c","T":"260 K","s":2,"r":7.3,"g":1.27},{"p":"c","T":"260 K","s":2,"r":7.6,"g":1.3},{"p":"c","T":"260 K","s":2,"r":8.0,"g":1.27},{"p":"c","T":"260 K","s":2,"r":8.5,"g":1.18},{"p":"c","T":"260 K","s":2,"r":9.0,"g":1.06},{"p":"c","T":"260 K","s":2,"r":9.5,"g":0.94},{"p":"c","T":"260 K","s":2,"r":10.0,"g":0.82},{"p":"c","T":"260 K","s":2,"r":10.6,"g":0.7},{"p":"c","T":"260 K","s":2,"r":11.2,"g":0.6},{"p":"c","T":"260 K","s":2,"r":11.8,"g":0.51},{"p":"c","T":"260 K","s":2,"r":12.4,"g":0.4},{"p":"c","T":"260 K","s":2,"r":13.0,"g":0.28},{"p":"c","T":"260 K","s":2,"r":13.6,"g":0.17},{"p":"c","T":"260 K","s":2,"r":14.2,"g":0.09},{"p":"c","T":"260 K","s":2,"r":14.9,"g":0.03},{"p":"c","T":"260 K","s":2,"r":15.6,"g":0},{"p":"c","T":"260 K","s":2,"r":30,"g":0},
{"p":"c","T":"340 K","s":2,"r":0,"g":0},{"p":"c","T":"340 K","s":2,"r":5.0,"g":0},{"p":"c","T":"340 K","s":2,"r":5.3,"g":0.08},{"p":"c","T":"340 K","s":2,"r":5.7,"g":0.25},{"p":"c","T":"340 K","s":2,"r":6.1,"g":0.47},{"p":"c","T":"340 K","s":2,"r":6.5,"g":0.72},{"p":"c","T":"340 K","s":2,"r":6.9,"g":0.96},{"p":"c","T":"340 K","s":2,"r":7.3,"g":1.13},{"p":"c","T":"340 K","s":2,"r":7.6,"g":1.22},{"p":"c","T":"340 K","s":2,"r":7.85,"g":1.26},{"p":"c","T":"340 K","s":2,"r":8.2,"g":1.24},{"p":"c","T":"340 K","s":2,"r":8.7,"g":1.16},{"p":"c","T":"340 K","s":2,"r":9.2,"g":1.05},{"p":"c","T":"340 K","s":2,"r":9.7,"g":0.93},{"p":"c","T":"340 K","s":2,"r":10.2,"g":0.81},{"p":"c","T":"340 K","s":2,"r":10.8,"g":0.7},{"p":"c","T":"340 K","s":2,"r":11.4,"g":0.6},{"p":"c","T":"340 K","s":2,"r":12.0,"g":0.51},{"p":"c","T":"340 K","s":2,"r":12.6,"g":0.41},{"p":"c","T":"340 K","s":2,"r":13.2,"g":0.29},{"p":"c","T":"340 K","s":2,"r":13.8,"g":0.18},{"p":"c","T":"340 K","s":2,"r":14.4,"g":0.1},{"p":"c","T":"340 K","s":2,"r":15.1,"g":0.04},{"p":"c","T":"340 K","s":2,"r":15.9,"g":0},{"p":"c","T":"340 K","s":2,"r":30,"g":0},
{"p":"c","T":"260 K","s":3,"r":0,"g":0},{"p":"c","T":"260 K","s":3,"r":9.8,"g":0},{"p":"c","T":"260 K","s":3,"r":10.3,"g":0.05},{"p":"c","T":"260 K","s":3,"r":10.8,"g":0.14},{"p":"c","T":"260 K","s":3,"r":11.4,"g":0.3},{"p":"c","T":"260 K","s":3,"r":12.0,"g":0.49},{"p":"c","T":"260 K","s":3,"r":12.6,"g":0.66},{"p":"c","T":"260 K","s":3,"r":13.2,"g":0.8},{"p":"c","T":"260 K","s":3,"r":13.8,"g":0.89},{"p":"c","T":"260 K","s":3,"r":14.4,"g":0.93},{"p":"c","T":"260 K","s":3,"r":14.9,"g":0.935},{"p":"c","T":"260 K","s":3,"r":15.5,"g":0.91},{"p":"c","T":"260 K","s":3,"r":16.1,"g":0.85},{"p":"c","T":"260 K","s":3,"r":16.8,"g":0.76},{"p":"c","T":"260 K","s":3,"r":17.4,"g":0.67},{"p":"c","T":"260 K","s":3,"r":18.0,"g":0.58},{"p":"c","T":"260 K","s":3,"r":18.7,"g":0.5},{"p":"c","T":"260 K","s":3,"r":19.3,"g":0.42},{"p":"c","T":"260 K","s":3,"r":20.0,"g":0.32},{"p":"c","T":"260 K","s":3,"r":20.7,"g":0.22},{"p":"c","T":"260 K","s":3,"r":21.4,"g":0.13},{"p":"c","T":"260 K","s":3,"r":22.2,"g":0.06},{"p":"c","T":"260 K","s":3,"r":23.0,"g":0.02},{"p":"c","T":"260 K","s":3,"r":23.8,"g":0},{"p":"c","T":"260 K","s":3,"r":30,"g":0},
{"p":"c","T":"340 K","s":3,"r":0,"g":0},{"p":"c","T":"340 K","s":3,"r":10.1,"g":0},{"p":"c","T":"340 K","s":3,"r":10.6,"g":0.04},{"p":"c","T":"340 K","s":3,"r":11.1,"g":0.12},{"p":"c","T":"340 K","s":3,"r":11.7,"g":0.27},{"p":"c","T":"340 K","s":3,"r":12.3,"g":0.46},{"p":"c","T":"340 K","s":3,"r":12.9,"g":0.63},{"p":"c","T":"340 K","s":3,"r":13.5,"g":0.77},{"p":"c","T":"340 K","s":3,"r":14.1,"g":0.87},{"p":"c","T":"340 K","s":3,"r":14.7,"g":0.92},{"p":"c","T":"340 K","s":3,"r":15.2,"g":0.935},{"p":"c","T":"340 K","s":3,"r":15.8,"g":0.91},{"p":"c","T":"340 K","s":3,"r":16.4,"g":0.85},{"p":"c","T":"340 K","s":3,"r":17.1,"g":0.76},{"p":"c","T":"340 K","s":3,"r":17.7,"g":0.67},{"p":"c","T":"340 K","s":3,"r":18.3,"g":0.58},{"p":"c","T":"340 K","s":3,"r":19.0,"g":0.5},{"p":"c","T":"340 K","s":3,"r":19.6,"g":0.42},{"p":"c","T":"340 K","s":3,"r":20.3,"g":0.32},{"p":"c","T":"340 K","s":3,"r":21.0,"g":0.22},{"p":"c","T":"340 K","s":3,"r":21.7,"g":0.13},{"p":"c","T":"340 K","s":3,"r":22.5,"g":0.06},{"p":"c","T":"340 K","s":3,"r":23.3,"g":0.02},{"p":"c","T":"340 K","s":3,"r":24.1,"g":0},{"p":"c","T":"340 K","s":3,"r":30,"g":0},
{"p":"c","T":"260 K","s":4,"r":0,"g":0},{"p":"c","T":"260 K","s":4,"r":15.0,"g":0},{"p":"c","T":"260 K","s":4,"r":15.7,"g":0.04},{"p":"c","T":"260 K","s":4,"r":16.4,"g":0.11},{"p":"c","T":"260 K","s":4,"r":17.1,"g":0.22},{"p":"c","T":"260 K","s":4,"r":17.8,"g":0.35},{"p":"c","T":"260 K","s":4,"r":18.5,"g":0.48},{"p":"c","T":"260 K","s":4,"r":19.2,"g":0.6},{"p":"c","T":"260 K","s":4,"r":19.9,"g":0.71},{"p":"c","T":"260 K","s":4,"r":20.6,"g":0.8},{"p":"c","T":"260 K","s":4,"r":21.3,"g":0.86},{"p":"c","T":"260 K","s":4,"r":22.0,"g":0.87},{"p":"c","T":"260 K","s":4,"r":22.7,"g":0.84},{"p":"c","T":"260 K","s":4,"r":23.4,"g":0.77},{"p":"c","T":"260 K","s":4,"r":24.2,"g":0.65},{"p":"c","T":"260 K","s":4,"r":25.0,"g":0.52},{"p":"c","T":"260 K","s":4,"r":25.8,"g":0.39},{"p":"c","T":"260 K","s":4,"r":26.6,"g":0.28},{"p":"c","T":"260 K","s":4,"r":27.4,"g":0.18},{"p":"c","T":"260 K","s":4,"r":28.2,"g":0.12},{"p":"c","T":"260 K","s":4,"r":29.1,"g":0.07},{"p":"c","T":"260 K","s":4,"r":30,"g":0.05},
{"p":"c","T":"340 K","s":4,"r":0,"g":0},{"p":"c","T":"340 K","s":4,"r":15.3,"g":0},{"p":"c","T":"340 K","s":4,"r":16.0,"g":0.04},{"p":"c","T":"340 K","s":4,"r":16.7,"g":0.1},{"p":"c","T":"340 K","s":4,"r":17.4,"g":0.2},{"p":"c","T":"340 K","s":4,"r":18.1,"g":0.32},{"p":"c","T":"340 K","s":4,"r":18.8,"g":0.45},{"p":"c","T":"340 K","s":4,"r":19.5,"g":0.57},{"p":"c","T":"340 K","s":4,"r":20.2,"g":0.68},{"p":"c","T":"340 K","s":4,"r":20.9,"g":0.78},{"p":"c","T":"340 K","s":4,"r":21.6,"g":0.84},{"p":"c","T":"340 K","s":4,"r":22.3,"g":0.87},{"p":"c","T":"340 K","s":4,"r":23.0,"g":0.85},{"p":"c","T":"340 K","s":4,"r":23.7,"g":0.79},{"p":"c","T":"340 K","s":4,"r":24.5,"g":0.68},{"p":"c","T":"340 K","s":4,"r":25.3,"g":0.56},{"p":"c","T":"340 K","s":4,"r":26.1,"g":0.43},{"p":"c","T":"340 K","s":4,"r":26.9,"g":0.32},{"p":"c","T":"340 K","s":4,"r":27.7,"g":0.22},{"p":"c","T":"340 K","s":4,"r":28.5,"g":0.15},{"p":"c","T":"340 K","s":4,"r":29.3,"g":0.11},{"p":"c","T":"340 K","s":4,"r":30,"g":0.09},

{"p":"d","T":"260K","s":0,"r":0,"g":0},{"p":"d","T":"260K","s":0,"r":3.5,"g":0},{"p":"d","T":"260K","s":0,"r":3.7,"g":0.05},{"p":"d","T":"260K","s":0,"r":3.9,"g":0.3},{"p":"d","T":"260K","s":0,"r":4.1,"g":0.9},{"p":"d","T":"260K","s":0,"r":4.3,"g":1.5},{"p":"d","T":"260K","s":0,"r":4.5,"g":1.9},{"p":"d","T":"260K","s":0,"r":4.7,"g":2.1},{"p":"d","T":"260K","s":0,"r":4.85,"g":2.13},{"p":"d","T":"260K","s":0,"r":5.0,"g":2.1},{"p":"d","T":"260K","s":0,"r":5.3,"g":1.95},{"p":"d","T":"260K","s":0,"r":5.6,"g":1.75},{"p":"d","T":"260K","s":0,"r":6.0,"g":1.42},{"p":"d","T":"260K","s":0,"r":6.4,"g":1.12},{"p":"d","T":"260K","s":0,"r":6.8,"g":0.92},{"p":"d","T":"260K","s":0,"r":7.2,"g":0.78},{"p":"d","T":"260K","s":0,"r":7.6,"g":0.64},{"p":"d","T":"260K","s":0,"r":7.9,"g":0.53},{"p":"d","T":"260K","s":0,"r":8.1,"g":0.5},{"p":"d","T":"260K","s":0,"r":8.4,"g":0.55},{"p":"d","T":"260K","s":0,"r":8.8,"g":0.72},{"p":"d","T":"260K","s":0,"r":9.2,"g":0.92},{"p":"d","T":"260K","s":0,"r":9.6,"g":1.08},{"p":"d","T":"260K","s":0,"r":10.0,"g":1.18},{"p":"d","T":"260K","s":0,"r":10.5,"g":1.25},{"p":"d","T":"260K","s":0,"r":11.0,"g":1.24},{"p":"d","T":"260K","s":0,"r":11.5,"g":1.18},{"p":"d","T":"260K","s":0,"r":12.0,"g":1.1},{"p":"d","T":"260K","s":0,"r":12.6,"g":1.0},{"p":"d","T":"260K","s":0,"r":13.2,"g":0.93},{"p":"d","T":"260K","s":0,"r":13.8,"g":0.9},{"p":"d","T":"260K","s":0,"r":14.5,"g":0.91},{"p":"d","T":"260K","s":0,"r":15.2,"g":0.94},{"p":"d","T":"260K","s":0,"r":16.0,"g":0.99},{"p":"d","T":"260K","s":0,"r":16.8,"g":1.04},{"p":"d","T":"260K","s":0,"r":17.4,"g":1.07},{"p":"d","T":"260K","s":0,"r":18.0,"g":1.06},{"p":"d","T":"260K","s":0,"r":18.8,"g":1.02},{"p":"d","T":"260K","s":0,"r":19.6,"g":0.98},{"p":"d","T":"260K","s":0,"r":20.4,"g":0.96},{"p":"d","T":"260K","s":0,"r":21.2,"g":0.95},{"p":"d","T":"260K","s":0,"r":22.0,"g":0.97},{"p":"d","T":"260K","s":0,"r":23.0,"g":1.0},{"p":"d","T":"260K","s":0,"r":24.0,"g":1.02},{"p":"d","T":"260K","s":0,"r":25.0,"g":1.02},{"p":"d","T":"260K","s":0,"r":26.0,"g":1.01},{"p":"d","T":"260K","s":0,"r":27.0,"g":1.0},{"p":"d","T":"260K","s":0,"r":28,"g":0.995},{"p":"d","T":"260K","s":0,"r":29,"g":1.0},{"p":"d","T":"260K","s":0,"r":30,"g":1.01},
{"p":"d","T":"340K","s":0,"r":0,"g":0},{"p":"d","T":"340K","s":0,"r":3.6,"g":0},{"p":"d","T":"340K","s":0,"r":3.8,"g":0.05},{"p":"d","T":"340K","s":0,"r":4.0,"g":0.3},{"p":"d","T":"340K","s":0,"r":4.2,"g":0.9},{"p":"d","T":"340K","s":0,"r":4.4,"g":1.5},{"p":"d","T":"340K","s":0,"r":4.6,"g":1.9},{"p":"d","T":"340K","s":0,"r":4.8,"g":2.08},{"p":"d","T":"340K","s":0,"r":4.95,"g":2.1},{"p":"d","T":"340K","s":0,"r":5.1,"g":2.07},{"p":"d","T":"340K","s":0,"r":5.4,"g":1.93},{"p":"d","T":"340K","s":0,"r":5.7,"g":1.72},{"p":"d","T":"340K","s":0,"r":6.1,"g":1.4},{"p":"d","T":"340K","s":0,"r":6.5,"g":1.12},{"p":"d","T":"340K","s":0,"r":6.9,"g":0.93},{"p":"d","T":"340K","s":0,"r":7.3,"g":0.79},{"p":"d","T":"340K","s":0,"r":7.7,"g":0.65},{"p":"d","T":"340K","s":0,"r":8.0,"g":0.54},{"p":"d","T":"340K","s":0,"r":8.2,"g":0.52},{"p":"d","T":"340K","s":0,"r":8.5,"g":0.56},{"p":"d","T":"340K","s":0,"r":8.9,"g":0.72},{"p":"d","T":"340K","s":0,"r":9.3,"g":0.92},{"p":"d","T":"340K","s":0,"r":9.7,"g":1.08},{"p":"d","T":"340K","s":0,"r":10.1,"g":1.18},{"p":"d","T":"340K","s":0,"r":10.6,"g":1.25},{"p":"d","T":"340K","s":0,"r":11.1,"g":1.24},{"p":"d","T":"340K","s":0,"r":11.6,"g":1.18},{"p":"d","T":"340K","s":0,"r":12.1,"g":1.1},{"p":"d","T":"340K","s":0,"r":12.7,"g":1.0},{"p":"d","T":"340K","s":0,"r":13.3,"g":0.94},{"p":"d","T":"340K","s":0,"r":13.9,"g":0.91},{"p":"d","T":"340K","s":0,"r":14.6,"g":0.92},{"p":"d","T":"340K","s":0,"r":15.3,"g":0.95},{"p":"d","T":"340K","s":0,"r":16.1,"g":0.99},{"p":"d","T":"340K","s":0,"r":16.9,"g":1.04},{"p":"d","T":"340K","s":0,"r":17.5,"g":1.06},{"p":"d","T":"340K","s":0,"r":18.1,"g":1.05},{"p":"d","T":"340K","s":0,"r":18.9,"g":1.02},{"p":"d","T":"340K","s":0,"r":19.7,"g":0.98},{"p":"d","T":"340K","s":0,"r":20.5,"g":0.96},{"p":"d","T":"340K","s":0,"r":21.3,"g":0.96},{"p":"d","T":"340K","s":0,"r":22.1,"g":0.97},{"p":"d","T":"340K","s":0,"r":23.1,"g":1.0},{"p":"d","T":"340K","s":0,"r":24.1,"g":1.01},{"p":"d","T":"340K","s":0,"r":25.1,"g":1.01},{"p":"d","T":"340K","s":0,"r":26.1,"g":1.0},{"p":"d","T":"340K","s":0,"r":27.1,"g":1.0},{"p":"d","T":"340K","s":0,"r":28,"g":1.0},{"p":"d","T":"340K","s":0,"r":29,"g":1.0},{"p":"d","T":"340K","s":0,"r":30,"g":1.01},
{"p":"d","T":"260K","s":1,"r":0,"g":0},{"p":"d","T":"260K","s":1,"r":3.5,"g":0},{"p":"d","T":"260K","s":1,"r":3.7,"g":0.05},{"p":"d","T":"260K","s":1,"r":3.9,"g":0.3},{"p":"d","T":"260K","s":1,"r":4.1,"g":0.9},{"p":"d","T":"260K","s":1,"r":4.3,"g":1.5},{"p":"d","T":"260K","s":1,"r":4.5,"g":1.9},{"p":"d","T":"260K","s":1,"r":4.7,"g":2.1},{"p":"d","T":"260K","s":1,"r":4.85,"g":2.13},{"p":"d","T":"260K","s":1,"r":5.0,"g":2.1},{"p":"d","T":"260K","s":1,"r":5.3,"g":1.95},{"p":"d","T":"260K","s":1,"r":5.6,"g":1.75},{"p":"d","T":"260K","s":1,"r":6.0,"g":1.42},{"p":"d","T":"260K","s":1,"r":6.4,"g":1.12},{"p":"d","T":"260K","s":1,"r":6.8,"g":0.92},{"p":"d","T":"260K","s":1,"r":7.2,"g":0.78},{"p":"d","T":"260K","s":1,"r":7.6,"g":0.62},{"p":"d","T":"260K","s":1,"r":8.0,"g":0.45},{"p":"d","T":"260K","s":1,"r":8.4,"g":0.29},{"p":"d","T":"260K","s":1,"r":8.8,"g":0.16},{"p":"d","T":"260K","s":1,"r":9.3,"g":0.07},{"p":"d","T":"260K","s":1,"r":9.9,"g":0.02},{"p":"d","T":"260K","s":1,"r":10.5,"g":0},{"p":"d","T":"260K","s":1,"r":30,"g":0},
{"p":"d","T":"340K","s":1,"r":0,"g":0},{"p":"d","T":"340K","s":1,"r":3.6,"g":0},{"p":"d","T":"340K","s":1,"r":3.8,"g":0.05},{"p":"d","T":"340K","s":1,"r":4.0,"g":0.3},{"p":"d","T":"340K","s":1,"r":4.2,"g":0.9},{"p":"d","T":"340K","s":1,"r":4.4,"g":1.5},{"p":"d","T":"340K","s":1,"r":4.6,"g":1.9},{"p":"d","T":"340K","s":1,"r":4.8,"g":2.08},{"p":"d","T":"340K","s":1,"r":4.95,"g":2.1},{"p":"d","T":"340K","s":1,"r":5.1,"g":2.07},{"p":"d","T":"340K","s":1,"r":5.4,"g":1.93},{"p":"d","T":"340K","s":1,"r":5.7,"g":1.72},{"p":"d","T":"340K","s":1,"r":6.1,"g":1.4},{"p":"d","T":"340K","s":1,"r":6.5,"g":1.12},{"p":"d","T":"340K","s":1,"r":6.9,"g":0.93},{"p":"d","T":"340K","s":1,"r":7.3,"g":0.79},{"p":"d","T":"340K","s":1,"r":7.7,"g":0.62},{"p":"d","T":"340K","s":1,"r":8.1,"g":0.45},{"p":"d","T":"340K","s":1,"r":8.5,"g":0.3},{"p":"d","T":"340K","s":1,"r":8.9,"g":0.17},{"p":"d","T":"340K","s":1,"r":9.4,"g":0.08},{"p":"d","T":"340K","s":1,"r":10.0,"g":0.02},{"p":"d","T":"340K","s":1,"r":10.6,"g":0},{"p":"d","T":"340K","s":1,"r":30,"g":0},
{"p":"d","T":"260K","s":2,"r":0,"g":0},{"p":"d","T":"260K","s":2,"r":7.3,"g":0},{"p":"d","T":"260K","s":2,"r":7.7,"g":0.06},{"p":"d","T":"260K","s":2,"r":8.1,"g":0.18},{"p":"d","T":"260K","s":2,"r":8.4,"g":0.29},{"p":"d","T":"260K","s":2,"r":8.8,"g":0.5},{"p":"d","T":"260K","s":2,"r":9.2,"g":0.78},{"p":"d","T":"260K","s":2,"r":9.6,"g":1.0},{"p":"d","T":"260K","s":2,"r":10.0,"g":1.15},{"p":"d","T":"260K","s":2,"r":10.5,"g":1.24},{"p":"d","T":"260K","s":2,"r":11.0,"g":1.23},{"p":"d","T":"260K","s":2,"r":11.5,"g":1.15},{"p":"d","T":"260K","s":2,"r":12.0,"g":1.03},{"p":"d","T":"260K","s":2,"r":12.6,"g":0.84},{"p":"d","T":"260K","s":2,"r":13.2,"g":0.65},{"p":"d","T":"260K","s":2,"r":13.8,"g":0.5},{"p":"d","T":"260K","s":2,"r":14.4,"g":0.35},{"p":"d","T":"260K","s":2,"r":15.0,"g":0.22},{"p":"d","T":"260K","s":2,"r":15.7,"g":0.11},{"p":"d","T":"260K","s":2,"r":16.4,"g":0.04},{"p":"d","T":"260K","s":2,"r":17.2,"g":0},{"p":"d","T":"260K","s":2,"r":30,"g":0},
{"p":"d","T":"340K","s":2,"r":0,"g":0},{"p":"d","T":"340K","s":2,"r":7.5,"g":0},{"p":"d","T":"340K","s":2,"r":7.9,"g":0.05},{"p":"d","T":"340K","s":2,"r":8.3,"g":0.16},{"p":"d","T":"340K","s":2,"r":8.6,"g":0.28},{"p":"d","T":"340K","s":2,"r":9.0,"g":0.48},{"p":"d","T":"340K","s":2,"r":9.4,"g":0.75},{"p":"d","T":"340K","s":2,"r":9.8,"g":0.98},{"p":"d","T":"340K","s":2,"r":10.2,"g":1.14},{"p":"d","T":"340K","s":2,"r":10.7,"g":1.24},{"p":"d","T":"340K","s":2,"r":11.2,"g":1.23},{"p":"d","T":"340K","s":2,"r":11.7,"g":1.15},{"p":"d","T":"340K","s":2,"r":12.2,"g":1.04},{"p":"d","T":"340K","s":2,"r":12.8,"g":0.86},{"p":"d","T":"340K","s":2,"r":13.4,"g":0.67},{"p":"d","T":"340K","s":2,"r":14.0,"g":0.51},{"p":"d","T":"340K","s":2,"r":14.6,"g":0.36},{"p":"d","T":"340K","s":2,"r":15.2,"g":0.23},{"p":"d","T":"340K","s":2,"r":15.9,"g":0.12},{"p":"d","T":"340K","s":2,"r":16.6,"g":0.05},{"p":"d","T":"340K","s":2,"r":17.4,"g":0},{"p":"d","T":"340K","s":2,"r":30,"g":0},
{"p":"d","T":"260K","s":3,"r":0,"g":0},{"p":"d","T":"260K","s":3,"r":11.5,"g":0},{"p":"d","T":"260K","s":3,"r":12.1,"g":0.05},{"p":"d","T":"260K","s":3,"r":12.7,"g":0.18},{"p":"d","T":"260K","s":3,"r":13.3,"g":0.35},{"p":"d","T":"260K","s":3,"r":13.8,"g":0.5},{"p":"d","T":"260K","s":3,"r":14.4,"g":0.65},{"p":"d","T":"260K","s":3,"r":15.0,"g":0.78},{"p":"d","T":"260K","s":3,"r":15.7,"g":0.89},{"p":"d","T":"260K","s":3,"r":16.4,"g":0.96},{"p":"d","T":"260K","s":3,"r":17.1,"g":0.99},{"p":"d","T":"260K","s":3,"r":17.8,"g":0.97},{"p":"d","T":"260K","s":3,"r":18.5,"g":0.89},{"p":"d","T":"260K","s":3,"r":19.2,"g":0.77},{"p":"d","T":"260K","s":3,"r":19.9,"g":0.64},{"p":"d","T":"260K","s":3,"r":20.6,"g":0.52},{"p":"d","T":"260K","s":3,"r":21.0,"g":0.47},{"p":"d","T":"260K","s":3,"r":21.7,"g":0.34},{"p":"d","T":"260K","s":3,"r":22.4,"g":0.22},{"p":"d","T":"260K","s":3,"r":23.2,"g":0.12},{"p":"d","T":"260K","s":3,"r":24.0,"g":0.05},{"p":"d","T":"260K","s":3,"r":24.9,"g":0.01},{"p":"d","T":"260K","s":3,"r":25.8,"g":0},{"p":"d","T":"260K","s":3,"r":30,"g":0},
{"p":"d","T":"340K","s":3,"r":0,"g":0},{"p":"d","T":"340K","s":3,"r":11.8,"g":0},{"p":"d","T":"340K","s":3,"r":12.4,"g":0.05},{"p":"d","T":"340K","s":3,"r":13.0,"g":0.17},{"p":"d","T":"340K","s":3,"r":13.6,"g":0.34},{"p":"d","T":"340K","s":3,"r":14.1,"g":0.49},{"p":"d","T":"340K","s":3,"r":14.7,"g":0.63},{"p":"d","T":"340K","s":3,"r":15.3,"g":0.76},{"p":"d","T":"340K","s":3,"r":16.0,"g":0.87},{"p":"d","T":"340K","s":3,"r":16.8,"g":0.96},{"p":"d","T":"340K","s":3,"r":17.5,"g":0.99},{"p":"d","T":"340K","s":3,"r":18.2,"g":0.96},{"p":"d","T":"340K","s":3,"r":18.9,"g":0.88},{"p":"d","T":"340K","s":3,"r":19.6,"g":0.76},{"p":"d","T":"340K","s":3,"r":20.3,"g":0.63},{"p":"d","T":"340K","s":3,"r":21.0,"g":0.5},{"p":"d","T":"340K","s":3,"r":21.4,"g":0.45},{"p":"d","T":"340K","s":3,"r":22.1,"g":0.33},{"p":"d","T":"340K","s":3,"r":22.8,"g":0.21},{"p":"d","T":"340K","s":3,"r":23.6,"g":0.11},{"p":"d","T":"340K","s":3,"r":24.4,"g":0.05},{"p":"d","T":"340K","s":3,"r":25.3,"g":0.01},{"p":"d","T":"340K","s":3,"r":26.2,"g":0},{"p":"d","T":"340K","s":3,"r":30,"g":0},
{"p":"d","T":"260K","s":4,"r":0,"g":0},{"p":"d","T":"260K","s":4,"r":17.3,"g":0},{"p":"d","T":"260K","s":4,"r":18.0,"g":0.05},{"p":"d","T":"260K","s":4,"r":18.7,"g":0.12},{"p":"d","T":"260K","s":4,"r":19.4,"g":0.22},{"p":"d","T":"260K","s":4,"r":20.1,"g":0.33},{"p":"d","T":"260K","s":4,"r":20.7,"g":0.43},{"p":"d","T":"260K","s":4,"r":21.0,"g":0.47},{"p":"d","T":"260K","s":4,"r":21.7,"g":0.59},{"p":"d","T":"260K","s":4,"r":22.4,"g":0.71},{"p":"d","T":"260K","s":4,"r":23.1,"g":0.81},{"p":"d","T":"260K","s":4,"r":23.8,"g":0.88},{"p":"d","T":"260K","s":4,"r":24.5,"g":0.9},{"p":"d","T":"260K","s":4,"r":25.2,"g":0.87},{"p":"d","T":"260K","s":4,"r":25.9,"g":0.79},{"p":"d","T":"260K","s":4,"r":26.6,"g":0.66},{"p":"d","T":"260K","s":4,"r":27.2,"g":0.54},{"p":"d","T":"260K","s":4,"r":28.0,"g":0.42},{"p":"d","T":"260K","s":4,"r":28.8,"g":0.32},{"p":"d","T":"260K","s":4,"r":29.4,"g":0.26},{"p":"d","T":"260K","s":4,"r":30,"g":0.2},
{"p":"d","T":"340K","s":4,"r":0,"g":0},{"p":"d","T":"340K","s":4,"r":17.6,"g":0},{"p":"d","T":"340K","s":4,"r":18.3,"g":0.05},{"p":"d","T":"340K","s":4,"r":19.0,"g":0.11},{"p":"d","T":"340K","s":4,"r":19.7,"g":0.2},{"p":"d","T":"340K","s":4,"r":20.4,"g":0.31},{"p":"d","T":"340K","s":4,"r":21.0,"g":0.41},{"p":"d","T":"340K","s":4,"r":21.4,"g":0.45},{"p":"d","T":"340K","s":4,"r":22.1,"g":0.57},{"p":"d","T":"340K","s":4,"r":22.8,"g":0.69},{"p":"d","T":"340K","s":4,"r":23.5,"g":0.79},{"p":"d","T":"340K","s":4,"r":24.2,"g":0.86},{"p":"d","T":"340K","s":4,"r":24.9,"g":0.89},{"p":"d","T":"340K","s":4,"r":25.6,"g":0.88},{"p":"d","T":"340K","s":4,"r":26.3,"g":0.82},{"p":"d","T":"340K","s":4,"r":27.0,"g":0.7},{"p":"d","T":"340K","s":4,"r":27.7,"g":0.58},{"p":"d","T":"340K","s":4,"r":28.4,"g":0.47},{"p":"d","T":"340K","s":4,"r":29.2,"g":0.38},{"p":"d","T":"340K","s":4,"r":30,"g":0.31},

{"p":"e","T":"260 K","s":0,"r":0,"g":0},{"p":"e","T":"260 K","s":0,"r":3.5,"g":0},{"p":"e","T":"260 K","s":0,"r":3.8,"g":0.02},{"p":"e","T":"260 K","s":0,"r":4.2,"g":0.12},{"p":"e","T":"260 K","s":0,"r":4.7,"g":0.34},{"p":"e","T":"260 K","s":0,"r":5.1,"g":0.52},{"p":"e","T":"260 K","s":0,"r":5.5,"g":0.7},{"p":"e","T":"260 K","s":0,"r":5.9,"g":0.92},{"p":"e","T":"260 K","s":0,"r":6.3,"g":1.14},{"p":"e","T":"260 K","s":0,"r":6.6,"g":1.3},{"p":"e","T":"260 K","s":0,"r":6.85,"g":1.4},{"p":"e","T":"260 K","s":0,"r":7.0,"g":1.43},{"p":"e","T":"260 K","s":0,"r":7.2,"g":1.41},{"p":"e","T":"260 K","s":0,"r":7.6,"g":1.3},{"p":"e","T":"260 K","s":0,"r":8.1,"g":1.16},{"p":"e","T":"260 K","s":0,"r":8.7,"g":1.0},{"p":"e","T":"260 K","s":0,"r":9.2,"g":0.95},{"p":"e","T":"260 K","s":0,"r":9.7,"g":0.95},{"p":"e","T":"260 K","s":0,"r":10.3,"g":0.97},{"p":"e","T":"260 K","s":0,"r":11.0,"g":0.97},{"p":"e","T":"260 K","s":0,"r":11.6,"g":0.95},{"p":"e","T":"260 K","s":0,"r":12.1,"g":0.93},{"p":"e","T":"260 K","s":0,"r":12.6,"g":0.95},{"p":"e","T":"260 K","s":0,"r":13.2,"g":1.01},{"p":"e","T":"260 K","s":0,"r":13.8,"g":1.06},{"p":"e","T":"260 K","s":0,"r":14.3,"g":1.08},{"p":"e","T":"260 K","s":0,"r":14.9,"g":1.06},{"p":"e","T":"260 K","s":0,"r":15.6,"g":1.0},{"p":"e","T":"260 K","s":0,"r":16.3,"g":0.96},{"p":"e","T":"260 K","s":0,"r":17.0,"g":0.95},{"p":"e","T":"260 K","s":0,"r":17.8,"g":0.97},{"p":"e","T":"260 K","s":0,"r":18.6,"g":1.01},{"p":"e","T":"260 K","s":0,"r":19.4,"g":1.03},{"p":"e","T":"260 K","s":0,"r":20.2,"g":1.02},{"p":"e","T":"260 K","s":0,"r":21.2,"g":1.0},{"p":"e","T":"260 K","s":0,"r":22.2,"g":0.98},{"p":"e","T":"260 K","s":0,"r":23.2,"g":0.98},{"p":"e","T":"260 K","s":0,"r":24.2,"g":0.99},{"p":"e","T":"260 K","s":0,"r":25.2,"g":1.0},{"p":"e","T":"260 K","s":0,"r":26.5,"g":1.01},{"p":"e","T":"260 K","s":0,"r":28,"g":1.0},{"p":"e","T":"260 K","s":0,"r":30,"g":1.0},
{"p":"e","T":"340 K","s":0,"r":0,"g":0},{"p":"e","T":"340 K","s":0,"r":3.6,"g":0},{"p":"e","T":"340 K","s":0,"r":3.9,"g":0.02},{"p":"e","T":"340 K","s":0,"r":4.3,"g":0.1},{"p":"e","T":"340 K","s":0,"r":4.8,"g":0.32},{"p":"e","T":"340 K","s":0,"r":5.2,"g":0.5},{"p":"e","T":"340 K","s":0,"r":5.6,"g":0.68},{"p":"e","T":"340 K","s":0,"r":6.0,"g":0.9},{"p":"e","T":"340 K","s":0,"r":6.4,"g":1.12},{"p":"e","T":"340 K","s":0,"r":6.7,"g":1.28},{"p":"e","T":"340 K","s":0,"r":6.95,"g":1.36},{"p":"e","T":"340 K","s":0,"r":7.1,"g":1.38},{"p":"e","T":"340 K","s":0,"r":7.3,"g":1.37},{"p":"e","T":"340 K","s":0,"r":7.7,"g":1.29},{"p":"e","T":"340 K","s":0,"r":8.2,"g":1.16},{"p":"e","T":"340 K","s":0,"r":8.7,"g":1.05},{"p":"e","T":"340 K","s":0,"r":9.2,"g":1.0},{"p":"e","T":"340 K","s":0,"r":9.8,"g":0.97},{"p":"e","T":"340 K","s":0,"r":10.4,"g":0.97},{"p":"e","T":"340 K","s":0,"r":11.0,"g":0.96},{"p":"e","T":"340 K","s":0,"r":11.6,"g":0.95},{"p":"e","T":"340 K","s":0,"r":12.1,"g":0.94},{"p":"e","T":"340 K","s":0,"r":12.7,"g":0.95},{"p":"e","T":"340 K","s":0,"r":13.3,"g":1.0},{"p":"e","T":"340 K","s":0,"r":13.9,"g":1.05},{"p":"e","T":"340 K","s":0,"r":14.4,"g":1.07},{"p":"e","T":"340 K","s":0,"r":15.0,"g":1.05},{"p":"e","T":"340 K","s":0,"r":15.7,"g":1.0},{"p":"e","T":"340 K","s":0,"r":16.4,"g":0.96},{"p":"e","T":"340 K","s":0,"r":17.1,"g":0.95},{"p":"e","T":"340 K","s":0,"r":17.9,"g":0.97},{"p":"e","T":"340 K","s":0,"r":18.7,"g":1.0},{"p":"e","T":"340 K","s":0,"r":19.5,"g":1.02},{"p":"e","T":"340 K","s":0,"r":20.3,"g":1.02},{"p":"e","T":"340 K","s":0,"r":21.3,"g":1.0},{"p":"e","T":"340 K","s":0,"r":22.3,"g":0.99},{"p":"e","T":"340 K","s":0,"r":23.3,"g":0.98},{"p":"e","T":"340 K","s":0,"r":24.3,"g":0.99},{"p":"e","T":"340 K","s":0,"r":25.3,"g":1.0},{"p":"e","T":"340 K","s":0,"r":26.5,"g":1.0},{"p":"e","T":"340 K","s":0,"r":28,"g":1.0},{"p":"e","T":"340 K","s":0,"r":30,"g":0.995},
{"p":"e","T":"260 K","s":1,"r":0,"g":0},{"p":"e","T":"260 K","s":1,"r":3.5,"g":0},{"p":"e","T":"260 K","s":1,"r":3.8,"g":0.02},{"p":"e","T":"260 K","s":1,"r":4.2,"g":0.12},{"p":"e","T":"260 K","s":1,"r":4.7,"g":0.34},{"p":"e","T":"260 K","s":1,"r":5.1,"g":0.52},{"p":"e","T":"260 K","s":1,"r":5.5,"g":0.7},{"p":"e","T":"260 K","s":1,"r":5.9,"g":0.92},{"p":"e","T":"260 K","s":1,"r":6.3,"g":1.14},{"p":"e","T":"260 K","s":1,"r":6.6,"g":1.3},{"p":"e","T":"260 K","s":1,"r":6.85,"g":1.4},{"p":"e","T":"260 K","s":1,"r":7.0,"g":1.43},{"p":"e","T":"260 K","s":1,"r":7.2,"g":1.41},{"p":"e","T":"260 K","s":1,"r":7.6,"g":1.25},{"p":"e","T":"260 K","s":1,"r":8.0,"g":1.0},{"p":"e","T":"260 K","s":1,"r":8.4,"g":0.74},{"p":"e","T":"260 K","s":1,"r":8.9,"g":0.49},{"p":"e","T":"260 K","s":1,"r":9.4,"g":0.3},{"p":"e","T":"260 K","s":1,"r":9.9,"g":0.17},{"p":"e","T":"260 K","s":1,"r":10.5,"g":0.08},{"p":"e","T":"260 K","s":1,"r":11.1,"g":0.03},{"p":"e","T":"260 K","s":1,"r":11.7,"g":0},{"p":"e","T":"260 K","s":1,"r":30,"g":0},
{"p":"e","T":"340 K","s":1,"r":0,"g":0},{"p":"e","T":"340 K","s":1,"r":3.6,"g":0},{"p":"e","T":"340 K","s":1,"r":3.9,"g":0.02},{"p":"e","T":"340 K","s":1,"r":4.3,"g":0.1},{"p":"e","T":"340 K","s":1,"r":4.8,"g":0.32},{"p":"e","T":"340 K","s":1,"r":5.2,"g":0.5},{"p":"e","T":"340 K","s":1,"r":5.6,"g":0.68},{"p":"e","T":"340 K","s":1,"r":6.0,"g":0.9},{"p":"e","T":"340 K","s":1,"r":6.4,"g":1.12},{"p":"e","T":"340 K","s":1,"r":6.7,"g":1.28},{"p":"e","T":"340 K","s":1,"r":6.95,"g":1.36},{"p":"e","T":"340 K","s":1,"r":7.1,"g":1.38},{"p":"e","T":"340 K","s":1,"r":7.3,"g":1.37},{"p":"e","T":"340 K","s":1,"r":7.7,"g":1.22},{"p":"e","T":"340 K","s":1,"r":8.1,"g":1.0},{"p":"e","T":"340 K","s":1,"r":8.5,"g":0.76},{"p":"e","T":"340 K","s":1,"r":9.0,"g":0.52},{"p":"e","T":"340 K","s":1,"r":9.5,"g":0.33},{"p":"e","T":"340 K","s":1,"r":10.0,"g":0.2},{"p":"e","T":"340 K","s":1,"r":10.6,"g":0.1},{"p":"e","T":"340 K","s":1,"r":11.2,"g":0.04},{"p":"e","T":"340 K","s":1,"r":11.9,"g":0},{"p":"e","T":"340 K","s":1,"r":30,"g":0},
{"p":"e","T":"260 K","s":2,"r":0,"g":0},{"p":"e","T":"260 K","s":2,"r":7.0,"g":0},{"p":"e","T":"260 K","s":2,"r":7.6,"g":0.04},{"p":"e","T":"260 K","s":2,"r":8.1,"g":0.2},{"p":"e","T":"260 K","s":2,"r":8.5,"g":0.36},{"p":"e","T":"260 K","s":2,"r":8.9,"g":0.49},{"p":"e","T":"260 K","s":2,"r":9.4,"g":0.66},{"p":"e","T":"260 K","s":2,"r":9.9,"g":0.79},{"p":"e","T":"260 K","s":2,"r":10.5,"g":0.89},{"p":"e","T":"260 K","s":2,"r":11.1,"g":0.94},{"p":"e","T":"260 K","s":2,"r":11.7,"g":0.95},{"p":"e","T":"260 K","s":2,"r":12.3,"g":0.93},{"p":"e","T":"260 K","s":2,"r":12.9,"g":0.87},{"p":"e","T":"260 K","s":2,"r":13.5,"g":0.77},{"p":"e","T":"260 K","s":2,"r":14.1,"g":0.64},{"p":"e","T":"260 K","s":2,"r":14.7,"g":0.51},{"p":"e","T":"260 K","s":2,"r":15.3,"g":0.36},{"p":"e","T":"260 K","s":2,"r":15.9,"g":0.22},{"p":"e","T":"260 K","s":2,"r":16.5,"g":0.12},{"p":"e","T":"260 K","s":2,"r":17.1,"g":0.05},{"p":"e","T":"260 K","s":2,"r":17.8,"g":0.01},{"p":"e","T":"260 K","s":2,"r":18.5,"g":0},{"p":"e","T":"260 K","s":2,"r":30,"g":0},
{"p":"e","T":"340 K","s":2,"r":0,"g":0},{"p":"e","T":"340 K","s":2,"r":7.3,"g":0},{"p":"e","T":"340 K","s":2,"r":7.9,"g":0.06},{"p":"e","T":"340 K","s":2,"r":8.4,"g":0.22},{"p":"e","T":"340 K","s":2,"r":8.8,"g":0.37},{"p":"e","T":"340 K","s":2,"r":9.2,"g":0.5},{"p":"e","T":"340 K","s":2,"r":9.7,"g":0.65},{"p":"e","T":"340 K","s":2,"r":10.2,"g":0.78},{"p":"e","T":"340 K","s":2,"r":10.8,"g":0.88},{"p":"e","T":"340 K","s":2,"r":11.4,"g":0.93},{"p":"e","T":"340 K","s":2,"r":12.0,"g":0.94},{"p":"e","T":"340 K","s":2,"r":12.6,"g":0.93},{"p":"e","T":"340 K","s":2,"r":13.2,"g":0.88},{"p":"e","T":"340 K","s":2,"r":13.8,"g":0.78},{"p":"e","T":"340 K","s":2,"r":14.4,"g":0.65},{"p":"e","T":"340 K","s":2,"r":14.9,"g":0.53},{"p":"e","T":"340 K","s":2,"r":15.5,"g":0.39},{"p":"e","T":"340 K","s":2,"r":16.1,"g":0.25},{"p":"e","T":"340 K","s":2,"r":16.7,"g":0.14},{"p":"e","T":"340 K","s":2,"r":17.3,"g":0.06},{"p":"e","T":"340 K","s":2,"r":18.0,"g":0.02},{"p":"e","T":"340 K","s":2,"r":18.7,"g":0},{"p":"e","T":"340 K","s":2,"r":30,"g":0},
{"p":"e","T":"260 K","s":3,"r":0,"g":0},{"p":"e","T":"260 K","s":3,"r":11.8,"g":0},{"p":"e","T":"260 K","s":3,"r":12.4,"g":0.04},{"p":"e","T":"260 K","s":3,"r":13.0,"g":0.14},{"p":"e","T":"260 K","s":3,"r":13.6,"g":0.28},{"p":"e","T":"260 K","s":3,"r":14.2,"g":0.42},{"p":"e","T":"260 K","s":3,"r":14.7,"g":0.52},{"p":"e","T":"260 K","s":3,"r":15.3,"g":0.63},{"p":"e","T":"260 K","s":3,"r":15.9,"g":0.73},{"p":"e","T":"260 K","s":3,"r":16.6,"g":0.82},{"p":"e","T":"260 K","s":3,"r":17.3,"g":0.87},{"p":"e","T":"260 K","s":3,"r":18.0,"g":0.89},{"p":"e","T":"260 K","s":3,"r":18.7,"g":0.86},{"p":"e","T":"260 K","s":3,"r":19.4,"g":0.78},{"p":"e","T":"260 K","s":3,"r":20.1,"g":0.65},{"p":"e","T":"260 K","s":3,"r":20.7,"g":0.53},{"p":"e","T":"260 K","s":3,"r":21.3,"g":0.4},{"p":"e","T":"260 K","s":3,"r":21.9,"g":0.29},{"p":"e","T":"260 K","s":3,"r":22.6,"g":0.18},{"p":"e","T":"260 K","s":3,"r":23.3,"g":0.09},{"p":"e","T":"260 K","s":3,"r":24.0,"g":0.04},{"p":"e","T":"260 K","s":3,"r":24.8,"g":0},{"p":"e","T":"260 K","s":3,"r":30,"g":0},
{"p":"e","T":"340 K","s":3,"r":0,"g":0},{"p":"e","T":"340 K","s":3,"r":12.1,"g":0},{"p":"e","T":"340 K","s":3,"r":12.7,"g":0.04},{"p":"e","T":"340 K","s":3,"r":13.3,"g":0.13},{"p":"e","T":"340 K","s":3,"r":13.9,"g":0.27},{"p":"e","T":"340 K","s":3,"r":14.5,"g":0.41},{"p":"e","T":"340 K","s":3,"r":14.9,"g":0.51},{"p":"e","T":"340 K","s":3,"r":15.5,"g":0.62},{"p":"e","T":"340 K","s":3,"r":16.1,"g":0.72},{"p":"e","T":"340 K","s":3,"r":16.8,"g":0.81},{"p":"e","T":"340 K","s":3,"r":17.5,"g":0.87},{"p":"e","T":"340 K","s":3,"r":18.2,"g":0.89},{"p":"e","T":"340 K","s":3,"r":18.9,"g":0.87},{"p":"e","T":"340 K","s":3,"r":19.6,"g":0.8},{"p":"e","T":"340 K","s":3,"r":20.3,"g":0.67},{"p":"e","T":"340 K","s":3,"r":20.9,"g":0.55},{"p":"e","T":"340 K","s":3,"r":21.5,"g":0.43},{"p":"e","T":"340 K","s":3,"r":22.1,"g":0.32},{"p":"e","T":"340 K","s":3,"r":22.8,"g":0.2},{"p":"e","T":"340 K","s":3,"r":23.5,"g":0.11},{"p":"e","T":"340 K","s":3,"r":24.2,"g":0.05},{"p":"e","T":"340 K","s":3,"r":25.0,"g":0.01},{"p":"e","T":"340 K","s":3,"r":25.8,"g":0},{"p":"e","T":"340 K","s":3,"r":30,"g":0},
{"p":"e","T":"260 K","s":4,"r":0,"g":0},{"p":"e","T":"260 K","s":4,"r":17.3,"g":0},{"p":"e","T":"260 K","s":4,"r":17.9,"g":0.05},{"p":"e","T":"260 K","s":4,"r":18.6,"g":0.13},{"p":"e","T":"260 K","s":4,"r":19.3,"g":0.25},{"p":"e","T":"260 K","s":4,"r":20.0,"g":0.39},{"p":"e","T":"260 K","s":4,"r":20.7,"g":0.53},{"p":"e","T":"260 K","s":4,"r":21.4,"g":0.65},{"p":"e","T":"260 K","s":4,"r":22.1,"g":0.75},{"p":"e","T":"260 K","s":4,"r":22.8,"g":0.82},{"p":"e","T":"260 K","s":4,"r":23.5,"g":0.86},{"p":"e","T":"260 K","s":4,"r":24.2,"g":0.86},{"p":"e","T":"260 K","s":4,"r":24.9,"g":0.82},{"p":"e","T":"260 K","s":4,"r":25.6,"g":0.74},{"p":"e","T":"260 K","s":4,"r":26.4,"g":0.63},{"p":"e","T":"260 K","s":4,"r":27.2,"g":0.52},{"p":"e","T":"260 K","s":4,"r":28.0,"g":0.43},{"p":"e","T":"260 K","s":4,"r":28.8,"g":0.36},{"p":"e","T":"260 K","s":4,"r":29.4,"g":0.32},{"p":"e","T":"260 K","s":4,"r":30,"g":0.29},
{"p":"e","T":"340 K","s":4,"r":0,"g":0},{"p":"e","T":"340 K","s":4,"r":17.6,"g":0},{"p":"e","T":"340 K","s":4,"r":18.2,"g":0.04},{"p":"e","T":"340 K","s":4,"r":18.9,"g":0.11},{"p":"e","T":"340 K","s":4,"r":19.6,"g":0.22},{"p":"e","T":"340 K","s":4,"r":20.3,"g":0.35},{"p":"e","T":"340 K","s":4,"r":20.9,"g":0.49},{"p":"e","T":"340 K","s":4,"r":21.6,"g":0.62},{"p":"e","T":"340 K","s":4,"r":22.3,"g":0.72},{"p":"e","T":"340 K","s":4,"r":23.0,"g":0.8},{"p":"e","T":"340 K","s":4,"r":23.7,"g":0.85},{"p":"e","T":"340 K","s":4,"r":24.4,"g":0.87},{"p":"e","T":"340 K","s":4,"r":25.1,"g":0.85},{"p":"e","T":"340 K","s":4,"r":25.8,"g":0.79},{"p":"e","T":"340 K","s":4,"r":26.6,"g":0.69},{"p":"e","T":"340 K","s":4,"r":27.4,"g":0.59},{"p":"e","T":"340 K","s":4,"r":28.2,"g":0.5},{"p":"e","T":"340 K","s":4,"r":29.0,"g":0.43},{"p":"e","T":"340 K","s":4,"r":30,"g":0.38},

{"p":"f","T":"260 K","s":0,"r":0,"g":0},{"p":"f","T":"260 K","s":0,"r":4.5,"g":0},{"p":"f","T":"260 K","s":0,"r":4.8,"g":0.04},{"p":"f","T":"260 K","s":0,"r":5.0,"g":0.15},{"p":"f","T":"260 K","s":0,"r":5.2,"g":0.33},{"p":"f","T":"260 K","s":0,"r":5.55,"g":0.71},{"p":"f","T":"260 K","s":0,"r":5.9,"g":1.08},{"p":"f","T":"260 K","s":0,"r":6.25,"g":1.25},{"p":"f","T":"260 K","s":0,"r":6.6,"g":1.28},{"p":"f","T":"260 K","s":0,"r":6.9,"g":1.31},{"p":"f","T":"260 K","s":0,"r":7.2,"g":1.43},{"p":"f","T":"260 K","s":0,"r":7.5,"g":1.53},{"p":"f","T":"260 K","s":0,"r":7.75,"g":1.5},{"p":"f","T":"260 K","s":0,"r":8.1,"g":1.36},{"p":"f","T":"260 K","s":0,"r":8.7,"g":1.19},{"p":"f","T":"260 K","s":0,"r":9.3,"g":1.1},{"p":"f","T":"260 K","s":0,"r":9.9,"g":0.99},{"p":"f","T":"260 K","s":0,"r":10.5,"g":0.84},{"p":"f","T":"260 K","s":0,"r":11.0,"g":0.71},{"p":"f","T":"260 K","s":0,"r":11.3,"g":0.66},{"p":"f","T":"260 K","s":0,"r":11.6,"g":0.68},{"p":"f","T":"260 K","s":0,"r":12.0,"g":0.83},{"p":"f","T":"260 K","s":0,"r":12.5,"g":1.02},{"p":"f","T":"260 K","s":0,"r":12.9,"g":1.14},{"p":"f","T":"260 K","s":0,"r":13.3,"g":1.21},{"p":"f","T":"260 K","s":0,"r":13.7,"g":1.21},{"p":"f","T":"260 K","s":0,"r":14.2,"g":1.16},{"p":"f","T":"260 K","s":0,"r":14.8,"g":1.06},{"p":"f","T":"260 K","s":0,"r":15.4,"g":0.96},{"p":"f","T":"260 K","s":0,"r":16.0,"g":0.92},{"p":"f","T":"260 K","s":0,"r":16.6,"g":0.91},{"p":"f","T":"260 K","s":0,"r":17.3,"g":0.95},{"p":"f","T":"260 K","s":0,"r":18.0,"g":1.01},{"p":"f","T":"260 K","s":0,"r":18.7,"g":1.05},{"p":"f","T":"260 K","s":0,"r":19.4,"g":1.07},{"p":"f","T":"260 K","s":0,"r":20.1,"g":1.06},{"p":"f","T":"260 K","s":0,"r":20.9,"g":1.02},{"p":"f","T":"260 K","s":0,"r":21.7,"g":0.98},{"p":"f","T":"260 K","s":0,"r":22.5,"g":0.97},{"p":"f","T":"260 K","s":0,"r":23.3,"g":0.98},{"p":"f","T":"260 K","s":0,"r":24.1,"g":1.01},{"p":"f","T":"260 K","s":0,"r":25.0,"g":1.03},{"p":"f","T":"260 K","s":0,"r":25.9,"g":1.03},{"p":"f","T":"260 K","s":0,"r":26.8,"g":1.02},{"p":"f","T":"260 K","s":0,"r":28,"g":1.0},{"p":"f","T":"260 K","s":0,"r":29,"g":0.99},{"p":"f","T":"260 K","s":0,"r":30,"g":0.99},
{"p":"f","T":"340 K","s":0,"r":0,"g":0},{"p":"f","T":"340 K","s":0,"r":4.6,"g":0},{"p":"f","T":"340 K","s":0,"r":4.9,"g":0.04},{"p":"f","T":"340 K","s":0,"r":5.1,"g":0.14},{"p":"f","T":"340 K","s":0,"r":5.3,"g":0.3},{"p":"f","T":"340 K","s":0,"r":5.45,"g":0.5},{"p":"f","T":"340 K","s":0,"r":5.7,"g":0.8},{"p":"f","T":"340 K","s":0,"r":6.0,"g":1.1},{"p":"f","T":"340 K","s":0,"r":6.3,"g":1.2},{"p":"f","T":"340 K","s":0,"r":6.65,"g":1.23},{"p":"f","T":"340 K","s":0,"r":7.0,"g":1.31},{"p":"f","T":"340 K","s":0,"r":7.3,"g":1.42},{"p":"f","T":"340 K","s":0,"r":7.6,"g":1.48},{"p":"f","T":"340 K","s":0,"r":7.9,"g":1.44},{"p":"f","T":"340 K","s":0,"r":8.3,"g":1.33},{"p":"f","T":"340 K","s":0,"r":8.8,"g":1.22},{"p":"f","T":"340 K","s":0,"r":9.4,"g":1.12},{"p":"f","T":"340 K","s":0,"r":10.0,"g":1.0},{"p":"f","T":"340 K","s":0,"r":10.6,"g":0.86},{"p":"f","T":"340 K","s":0,"r":11.1,"g":0.74},{"p":"f","T":"340 K","s":0,"r":11.55,"g":0.7},{"p":"f","T":"340 K","s":0,"r":12.0,"g":0.78},{"p":"f","T":"340 K","s":0,"r":12.5,"g":0.92},{"p":"f","T":"340 K","s":0,"r":13.0,"g":1.06},{"p":"f","T":"340 K","s":0,"r":13.5,"g":1.15},{"p":"f","T":"340 K","s":0,"r":13.9,"g":1.17},{"p":"f","T":"340 K","s":0,"r":14.4,"g":1.13},{"p":"f","T":"340 K","s":0,"r":15.0,"g":1.04},{"p":"f","T":"340 K","s":0,"r":15.6,"g":0.96},{"p":"f","T":"340 K","s":0,"r":16.2,"g":0.91},{"p":"f","T":"340 K","s":0,"r":16.8,"g":0.91},{"p":"f","T":"340 K","s":0,"r":17.5,"g":0.95},{"p":"f","T":"340 K","s":0,"r":18.2,"g":1.0},{"p":"f","T":"340 K","s":0,"r":18.9,"g":1.04},{"p":"f","T":"340 K","s":0,"r":19.6,"g":1.06},{"p":"f","T":"340 K","s":0,"r":20.3,"g":1.05},{"p":"f","T":"340 K","s":0,"r":21.1,"g":1.02},{"p":"f","T":"340 K","s":0,"r":21.9,"g":0.99},{"p":"f","T":"340 K","s":0,"r":22.7,"g":0.98},{"p":"f","T":"340 K","s":0,"r":23.5,"g":0.99},{"p":"f","T":"340 K","s":0,"r":24.3,"g":1.01},{"p":"f","T":"340 K","s":0,"r":25.2,"g":1.02},{"p":"f","T":"340 K","s":0,"r":26.1,"g":1.02},{"p":"f","T":"340 K","s":0,"r":27.0,"g":1.01},{"p":"f","T":"340 K","s":0,"r":28,"g":1.0},{"p":"f","T":"340 K","s":0,"r":29,"g":0.99},{"p":"f","T":"340 K","s":0,"r":30,"g":0.99},
{"p":"f","T":"260 K","s":1,"r":0,"g":0},{"p":"f","T":"260 K","s":1,"r":4.5,"g":0},{"p":"f","T":"260 K","s":1,"r":4.8,"g":0.04},{"p":"f","T":"260 K","s":1,"r":5.0,"g":0.15},{"p":"f","T":"260 K","s":1,"r":5.2,"g":0.33},{"p":"f","T":"260 K","s":1,"r":5.55,"g":0.71},{"p":"f","T":"260 K","s":1,"r":5.9,"g":1.08},{"p":"f","T":"260 K","s":1,"r":6.25,"g":1.24},{"p":"f","T":"260 K","s":1,"r":6.6,"g":1.25},{"p":"f","T":"260 K","s":1,"r":6.9,"g":1.18},{"p":"f","T":"260 K","s":1,"r":7.15,"g":1.04},{"p":"f","T":"260 K","s":1,"r":7.35,"g":0.85},{"p":"f","T":"260 K","s":1,"r":7.5,"g":0.65},{"p":"f","T":"260 K","s":1,"r":7.65,"g":0.42},{"p":"f","T":"260 K","s":1,"r":7.8,"g":0.22},{"p":"f","T":"260 K","s":1,"r":8.0,"g":0.1},{"p":"f","T":"260 K","s":1,"r":8.3,"g":0.03},{"p":"f","T":"260 K","s":1,"r":8.7,"g":0},{"p":"f","T":"260 K","s":1,"r":30,"g":0},
{"p":"f","T":"340 K","s":1,"r":0,"g":0},{"p":"f","T":"340 K","s":1,"r":4.6,"g":0},{"p":"f","T":"340 K","s":1,"r":4.9,"g":0.04},{"p":"f","T":"340 K","s":1,"r":5.1,"g":0.14},{"p":"f","T":"340 K","s":1,"r":5.3,"g":0.3},{"p":"f","T":"340 K","s":1,"r":5.45,"g":0.5},{"p":"f","T":"340 K","s":1,"r":5.7,"g":0.8},{"p":"f","T":"340 K","s":1,"r":6.0,"g":1.08},{"p":"f","T":"340 K","s":1,"r":6.3,"g":1.18},{"p":"f","T":"340 K","s":1,"r":6.65,"g":1.22},{"p":"f","T":"340 K","s":1,"r":6.95,"g":1.18},{"p":"f","T":"340 K","s":1,"r":7.25,"g":1.05},{"p":"f","T":"340 K","s":1,"r":7.5,"g":0.85},{"p":"f","T":"340 K","s":1,"r":7.7,"g":0.62},{"p":"f","T":"340 K","s":1,"r":7.85,"g":0.4},{"p":"f","T":"340 K","s":1,"r":8.0,"g":0.22},{"p":"f","T":"340 K","s":1,"r":8.2,"g":0.1},{"p":"f","T":"340 K","s":1,"r":8.5,"g":0.03},{"p":"f","T":"340 K","s":1,"r":8.9,"g":0},{"p":"f","T":"340 K","s":1,"r":30,"g":0},
{"p":"f","T":"260 K","s":2,"r":0,"g":0},{"p":"f","T":"260 K","s":2,"r":6.5,"g":0},{"p":"f","T":"260 K","s":2,"r":6.7,"g":0.08},{"p":"f","T":"260 K","s":2,"r":6.9,"g":0.25},{"p":"f","T":"260 K","s":2,"r":7.1,"g":0.45},{"p":"f","T":"260 K","s":2,"r":7.35,"g":0.8},{"p":"f","T":"260 K","s":2,"r":7.6,"g":0.98},{"p":"f","T":"260 K","s":2,"r":7.9,"g":1.1},{"p":"f","T":"260 K","s":2,"r":8.3,"g":1.18},{"p":"f","T":"260 K","s":2,"r":8.7,"g":1.2},{"p":"f","T":"260 K","s":2,"r":9.2,"g":1.12},{"p":"f","T":"260 K","s":2,"r":9.8,"g":0.99},{"p":"f","T":"260 K","s":2,"r":10.4,"g":0.85},{"p":"f","T":"260 K","s":2,"r":10.9,"g":0.74},{"p":"f","T":"260 K","s":2,"r":11.3,"g":0.68},{"p":"f","T":"260 K","s":2,"r":11.7,"g":0.72},{"p":"f","T":"260 K","s":2,"r":12.2,"g":0.75},{"p":"f","T":"260 K","s":2,"r":12.6,"g":0.7},{"p":"f","T":"260 K","s":2,"r":13.0,"g":0.6},{"p":"f","T":"260 K","s":2,"r":13.5,"g":0.46},{"p":"f","T":"260 K","s":2,"r":14.0,"g":0.33},{"p":"f","T":"260 K","s":2,"r":14.6,"g":0.2},{"p":"f","T":"260 K","s":2,"r":15.2,"g":0.1},{"p":"f","T":"260 K","s":2,"r":15.9,"g":0.03},{"p":"f","T":"260 K","s":2,"r":16.5,"g":0},{"p":"f","T":"260 K","s":2,"r":30,"g":0},
{"p":"f","T":"340 K","s":2,"r":0,"g":0},{"p":"f","T":"340 K","s":2,"r":6.7,"g":0},{"p":"f","T":"340 K","s":2,"r":6.9,"g":0.06},{"p":"f","T":"340 K","s":2,"r":7.1,"g":0.18},{"p":"f","T":"340 K","s":2,"r":7.35,"g":0.4},{"p":"f","T":"340 K","s":2,"r":7.6,"g":0.7},{"p":"f","T":"340 K","s":2,"r":7.9,"g":0.93},{"p":"f","T":"340 K","s":2,"r":8.3,"g":1.1},{"p":"f","T":"340 K","s":2,"r":8.7,"g":1.17},{"p":"f","T":"340 K","s":2,"r":9.1,"g":1.18},{"p":"f","T":"340 K","s":2,"r":9.5,"g":1.12},{"p":"f","T":"340 K","s":2,"r":10.0,"g":1.0},{"p":"f","T":"340 K","s":2,"r":10.6,"g":0.86},{"p":"f","T":"340 K","s":2,"r":11.1,"g":0.75},{"p":"f","T":"340 K","s":2,"r":11.5,"g":0.7},{"p":"f","T":"340 K","s":2,"r":11.9,"g":0.74},{"p":"f","T":"340 K","s":2,"r":12.4,"g":0.75},{"p":"f","T":"340 K","s":2,"r":12.9,"g":0.68},{"p":"f","T":"340 K","s":2,"r":13.3,"g":0.57},{"p":"f","T":"340 K","s":2,"r":13.8,"g":0.44},{"p":"f","T":"340 K","s":2,"r":14.3,"g":0.31},{"p":"f","T":"340 K","s":2,"r":14.9,"g":0.19},{"p":"f","T":"340 K","s":2,"r":15.5,"g":0.1},{"p":"f","T":"340 K","s":2,"r":16.1,"g":0.04},{"p":"f","T":"340 K","s":2,"r":16.8,"g":0},{"p":"f","T":"340 K","s":2,"r":30,"g":0},
{"p":"f","T":"260 K","s":3,"r":0,"g":0},{"p":"f","T":"260 K","s":3,"r":11.3,"g":0},{"p":"f","T":"260 K","s":3,"r":11.6,"g":0.05},{"p":"f","T":"260 K","s":3,"r":12.0,"g":0.18},{"p":"f","T":"260 K","s":3,"r":12.5,"g":0.38},{"p":"f","T":"260 K","s":3,"r":13.0,"g":0.6},{"p":"f","T":"260 K","s":3,"r":13.5,"g":0.77},{"p":"f","T":"260 K","s":3,"r":14.0,"g":0.87},{"p":"f","T":"260 K","s":3,"r":14.6,"g":0.92},{"p":"f","T":"260 K","s":3,"r":15.2,"g":0.93},{"p":"f","T":"260 K","s":3,"r":15.8,"g":0.9},{"p":"f","T":"260 K","s":3,"r":16.5,"g":0.82},{"p":"f","T":"260 K","s":3,"r":17.2,"g":0.74},{"p":"f","T":"260 K","s":3,"r":17.9,"g":0.65},{"p":"f","T":"260 K","s":3,"r":18.5,"g":0.57},{"p":"f","T":"260 K","s":3,"r":19.0,"g":0.5},{"p":"f","T":"260 K","s":3,"r":19.6,"g":0.4},{"p":"f","T":"260 K","s":3,"r":20.2,"g":0.3},{"p":"f","T":"260 K","s":3,"r":20.8,"g":0.2},{"p":"f","T":"260 K","s":3,"r":21.5,"g":0.11},{"p":"f","T":"260 K","s":3,"r":22.2,"g":0.05},{"p":"f","T":"260 K","s":3,"r":23.0,"g":0.01},{"p":"f","T":"260 K","s":3,"r":23.8,"g":0},{"p":"f","T":"260 K","s":3,"r":30,"g":0},
{"p":"f","T":"340 K","s":3,"r":0,"g":0},{"p":"f","T":"340 K","s":3,"r":11.6,"g":0},{"p":"f","T":"340 K","s":3,"r":11.9,"g":0.04},{"p":"f","T":"340 K","s":3,"r":12.3,"g":0.15},{"p":"f","T":"340 K","s":3,"r":12.8,"g":0.34},{"p":"f","T":"340 K","s":3,"r":13.3,"g":0.57},{"p":"f","T":"340 K","s":3,"r":13.8,"g":0.74},{"p":"f","T":"340 K","s":3,"r":14.3,"g":0.85},{"p":"f","T":"340 K","s":3,"r":14.9,"g":0.91},{"p":"f","T":"340 K","s":3,"r":15.5,"g":0.92},{"p":"f","T":"340 K","s":3,"r":16.1,"g":0.9},{"p":"f","T":"340 K","s":3,"r":16.8,"g":0.83},{"p":"f","T":"340 K","s":3,"r":17.5,"g":0.75},{"p":"f","T":"340 K","s":3,"r":18.2,"g":0.66},{"p":"f","T":"340 K","s":3,"r":18.8,"g":0.58},{"p":"f","T":"340 K","s":3,"r":19.3,"g":0.51},{"p":"f","T":"340 K","s":3,"r":19.9,"g":0.42},{"p":"f","T":"340 K","s":3,"r":20.5,"g":0.32},{"p":"f","T":"340 K","s":3,"r":21.1,"g":0.22},{"p":"f","T":"340 K","s":3,"r":21.8,"g":0.13},{"p":"f","T":"340 K","s":3,"r":22.5,"g":0.06},{"p":"f","T":"340 K","s":3,"r":23.3,"g":0.02},{"p":"f","T":"340 K","s":3,"r":24.1,"g":0},{"p":"f","T":"340 K","s":3,"r":30,"g":0},
{"p":"f","T":"260 K","s":4,"r":0,"g":0},{"p":"f","T":"260 K","s":4,"r":15.6,"g":0},{"p":"f","T":"260 K","s":4,"r":16.2,"g":0.04},{"p":"f","T":"260 K","s":4,"r":16.9,"g":0.13},{"p":"f","T":"260 K","s":4,"r":17.6,"g":0.26},{"p":"f","T":"260 K","s":4,"r":18.3,"g":0.4},{"p":"f","T":"260 K","s":4,"r":19.0,"g":0.52},{"p":"f","T":"260 K","s":4,"r":19.7,"g":0.65},{"p":"f","T":"260 K","s":4,"r":20.4,"g":0.77},{"p":"f","T":"260 K","s":4,"r":21.1,"g":0.85},{"p":"f","T":"260 K","s":4,"r":21.8,"g":0.86},{"p":"f","T":"260 K","s":4,"r":22.5,"g":0.84},{"p":"f","T":"260 K","s":4,"r":23.2,"g":0.78},{"p":"f","T":"260 K","s":4,"r":23.9,"g":0.69},{"p":"f","T":"260 K","s":4,"r":24.5,"g":0.6},{"p":"f","T":"260 K","s":4,"r":24.9,"g":0.53},{"p":"f","T":"260 K","s":4,"r":25.6,"g":0.43},{"p":"f","T":"260 K","s":4,"r":26.2,"g":0.34},{"p":"f","T":"260 K","s":4,"r":26.7,"g":0.28},{"p":"f","T":"260 K","s":4,"r":27.4,"g":0.22},{"p":"f","T":"260 K","s":4,"r":28.2,"g":0.17},{"p":"f","T":"260 K","s":4,"r":29.1,"g":0.14},{"p":"f","T":"260 K","s":4,"r":30,"g":0.12},
{"p":"f","T":"340 K","s":4,"r":0,"g":0},{"p":"f","T":"340 K","s":4,"r":15.9,"g":0},{"p":"f","T":"340 K","s":4,"r":16.5,"g":0.04},{"p":"f","T":"340 K","s":4,"r":17.2,"g":0.12},{"p":"f","T":"340 K","s":4,"r":17.9,"g":0.24},{"p":"f","T":"340 K","s":4,"r":18.6,"g":0.37},{"p":"f","T":"340 K","s":4,"r":19.3,"g":0.5},{"p":"f","T":"340 K","s":4,"r":20.0,"g":0.63},{"p":"f","T":"340 K","s":4,"r":20.7,"g":0.75},{"p":"f","T":"340 K","s":4,"r":21.4,"g":0.84},{"p":"f","T":"340 K","s":4,"r":22.1,"g":0.87},{"p":"f","T":"340 K","s":4,"r":22.8,"g":0.86},{"p":"f","T":"340 K","s":4,"r":23.5,"g":0.8},{"p":"f","T":"340 K","s":4,"r":24.2,"g":0.7},{"p":"f","T":"340 K","s":4,"r":24.9,"g":0.6},{"p":"f","T":"340 K","s":4,"r":25.6,"g":0.5},{"p":"f","T":"340 K","s":4,"r":26.3,"g":0.4},{"p":"f","T":"340 K","s":4,"r":27.0,"g":0.32},{"p":"f","T":"340 K","s":4,"r":27.8,"g":0.25},{"p":"f","T":"340 K","s":4,"r":28.6,"g":0.21},{"p":"f","T":"340 K","s":4,"r":29.3,"g":0.19},{"p":"f","T":"340 K","s":4,"r":30,"g":0.18}
]
},
"vconcat":[
{"width":832,"height":244,
"layer":[
{"data":{"name":"c"},"transform":[{"filter":"datum.p=='a' && datum.s==0"}],"mark":{"type":"line","interpolate":"monotone","strokeWidth":3,"clip":true},
"encoding":{"x":{"field":"r","type":"quantitative","scale":{"domain":[0,30],"nice":false},"axis":null},"y":{"field":"g","type":"quantitative","scale":{"domain":[0,2.5],"nice":false},"axis":null},
"color":{"field":"T","type":"nominal","scale":{"range":["#1a6ee8","#ee2a1c"]},"legend":{"title":null,"orient":"none","legendX":136.8,"legendY":13.5,"symbolType":"M-4,0H4","symbolSize":451.6,"symbolStrokeWidth":3,"symbolDash":[1,0],"labelFontSize":30,"labelAlign":"right","labelOffset":-75.5,"rowPadding":0.5,"padding":0,"labelColor":"#000","labelBaseline":"middle"}}}},
{"data":{"name":"c"},"transform":[{"filter":"datum.p=='a' && datum.s>0"}],"mark":{"type":"line","interpolate":"monotone","strokeWidth":2.4,"strokeDash":[7,5],"clip":true},
"encoding":{"x":{"field":"r","type":"quantitative","axis":{"orient":"bottom","values":[0,5,10,15,20,25,30],"labels":false,"title":null}},
"y":{"field":"g","type":"quantitative","axis":{"orient":"left","values":[0,0.5,1,1.5,2,2.5],"format":"~g","title":"g(r)","labelPadding":34,"titlePadding":29}},
"color":{"field":"T","type":"nominal"},"detail":{"field":"s","type":"nominal"}}},
{"data":{"name":"c"},"transform":[{"filter":"datum.p=='a' && datum.s==0"}],"mark":{"type":"line","interpolate":"monotone","strokeWidth":3,"clip":true},
"encoding":{"x":{"field":"r","type":"quantitative","axis":null},"y":{"field":"g","type":"quantitative","axis":null},"color":{"field":"T","type":"nominal"}}},
{"data":{"name":"t"},"transform":[{"filter":"datum.p=='a' && datum.k=='title'"}],"mark":{"type":"text","align":"left","baseline":"middle","fontSize":29},
"encoding":{"x":{"field":"r","type":"quantitative","axis":{"orient":"top","values":[0,5,10,15,20,25,30],"title":"r / Å","labelPadding":27,"titlePadding":19}},"y":{"field":"g","type":"quantitative","axis":{"orient":"right","values":[0,0.5,1,1.5,2,2.5],"labels":false,"title":null}},"text":{"field":"t"}}},
{"data":{"name":"t"},"transform":[{"filter":"datum.p=='a' && datum.k=='s'"}],"mark":{"type":"text","align":"center","baseline":"middle","fontSize":26},
"encoding":{"x":{"field":"r","type":"quantitative","axis":null},"y":{"field":"g","type":"quantitative","axis":null},"text":{"field":"t"}}}
],
"resolve":{"axis":{"x":"independent","y":"independent"}}},

{"width":832,"height":235,
"layer":[
{"data":{"name":"c"},"transform":[{"filter":"datum.p=='b' && datum.s==0"}],"mark":{"type":"line","interpolate":"monotone","strokeWidth":3,"clip":true},
"encoding":{"x":{"field":"r","type":"quantitative","scale":{"domain":[0,30],"nice":false},"axis":null},"y":{"field":"g","type":"quantitative","scale":{"domain":[0,2.1],"nice":false},"axis":null},
"color":{"field":"T","type":"nominal","scale":{"range":["#1a6ee8","#ee2a1c"]},"legend":{"title":null,"orient":"none","legendX":155.1,"legendY":13.5,"symbolType":"M-4,0H4","symbolSize":451.6,"symbolStrokeWidth":3,"symbolDash":[1,0],"labelFontSize":30,"labelAlign":"right","labelOffset":-75.5,"rowPadding":0.5,"padding":0,"labelColor":"#000","labelBaseline":"middle"}}}},
{"data":{"name":"c"},"transform":[{"filter":"datum.p=='b' && datum.s>0"}],"mark":{"type":"line","interpolate":"monotone","strokeWidth":2.4,"strokeDash":[7,5],"clip":true},
"encoding":{"x":{"field":"r","type":"quantitative","axis":{"orient":"bottom","values":[0,5,10,15,20,25,30],"labels":false,"title":null}},
"y":{"field":"g","type":"quantitative","axis":{"orient":"left","values":[0,0.5,1,1.5,2],"format":"~g","title":"g(r)","labelPadding":34,"titlePadding":29}},
"color":{"field":"T","type":"nominal"},"detail":{"field":"s","type":"nominal"}}},
{"data":{"name":"c"},"transform":[{"filter":"datum.p=='b' && datum.s==0"}],"mark":{"type":"line","interpolate":"monotone","strokeWidth":3,"clip":true},
"encoding":{"x":{"field":"r","type":"quantitative","axis":null},"y":{"field":"g","type":"quantitative","axis":null},"color":{"field":"T","type":"nominal"}}},
{"data":{"name":"t"},"transform":[{"filter":"datum.p=='b' && datum.k=='title'"}],"mark":{"type":"text","align":"left","baseline":"middle","fontSize":29},
"encoding":{"x":{"field":"r","type":"quantitative","axis":{"orient":"top","values":[0,5,10,15,20,25,30],"labels":false,"title":null}},"y":{"field":"g","type":"quantitative","axis":{"orient":"right","values":[0,0.5,1,1.5,2],"labels":false,"title":null}},"text":{"field":"t"}}},
{"data":{"name":"t"},"transform":[{"filter":"datum.p=='b' && datum.k=='s'"}],"mark":{"type":"text","align":"center","baseline":"middle","fontSize":26},
"encoding":{"x":{"field":"r","type":"quantitative","axis":null},"y":{"field":"g","type":"quantitative","axis":null},"text":{"field":"t"}}}
],
"resolve":{"axis":{"x":"independent","y":"independent"}}},

{"width":832,"height":244,
"layer":[
{"data":{"name":"c"},"transform":[{"filter":"datum.p=='c' && datum.s==0"}],"mark":{"type":"line","interpolate":"monotone","strokeWidth":3,"clip":true},
"encoding":{"x":{"field":"r","type":"quantitative","scale":{"domain":[0,30],"nice":false},"axis":null},"y":{"field":"g","type":"quantitative","scale":{"domain":[0,1.9],"nice":false},"axis":null},
"color":{"field":"T","type":"nominal","scale":{"range":["#1a6ee8","#ee2a1c"]},"legend":{"title":null,"orient":"none","legendX":155.1,"legendY":13.5,"symbolType":"M-4,0H4","symbolSize":451.6,"symbolStrokeWidth":3,"symbolDash":[1,0],"labelFontSize":30,"labelAlign":"right","labelOffset":-75.5,"rowPadding":0.5,"padding":0,"labelColor":"#000","labelBaseline":"middle"}}}},
{"data":{"name":"c"},"transform":[{"filter":"datum.p=='c' && datum.s>0"}],"mark":{"type":"line","interpolate":"monotone","strokeWidth":2.4,"strokeDash":[7,5],"clip":true},
"encoding":{"x":{"field":"r","type":"quantitative","axis":{"orient":"bottom","values":[0,5,10,15,20,25,30],"title":"r / Å","labelPadding":33,"titlePadding":17}},
"y":{"field":"g","type":"quantitative","axis":{"orient":"left","values":[0,0.5,1,1.5],"format":"~g","title":"g(r)","labelPadding":34,"titlePadding":29}},
"color":{"field":"T","type":"nominal"},"detail":{"field":"s","type":"nominal"}}},
{"data":{"name":"c"},"transform":[{"filter":"datum.p=='c' && datum.s==0"}],"mark":{"type":"line","interpolate":"monotone","strokeWidth":3,"clip":true},
"encoding":{"x":{"field":"r","type":"quantitative","axis":null},"y":{"field":"g","type":"quantitative","axis":null},"color":{"field":"T","type":"nominal"}}},
{"data":{"name":"t"},"transform":[{"filter":"datum.p=='c' && datum.k=='title'"}],"mark":{"type":"text","align":"left","baseline":"middle","fontSize":29},
"encoding":{"x":{"field":"r","type":"quantitative","axis":{"orient":"top","values":[0,5,10,15,20,25,30],"labels":false,"title":null}},"y":{"field":"g","type":"quantitative","axis":{"orient":"right","values":[0,0.5,1,1.5],"labels":false,"title":null}},"text":{"field":"t"}}},
{"data":{"name":"t"},"transform":[{"filter":"datum.p=='c' && datum.k=='s'"}],"mark":{"type":"text","align":"center","baseline":"middle","fontSize":26},
"encoding":{"x":{"field":"r","type":"quantitative","axis":null},"y":{"field":"g","type":"quantitative","axis":null},"text":{"field":"t"}}},
{"data":{"name":"t"},"transform":[{"filter":"datum.p=='c' && datum.k=='ptr'"}],"mark":{"type":"rule","strokeWidth":2.5,"color":"#000"},
"encoding":{"x":{"field":"r","type":"quantitative","axis":null},"x2":{"field":"r2"},"y":{"field":"g","type":"quantitative","axis":null}}}
],
"resolve":{"axis":{"x":"independent","y":"independent"}}},

{"width":832,"height":169,"view":{"stroke":null},"data":{"values":[{"r":0}]},"mark":{"type":"point","opacity":0},"encoding":{}},

{"width":832,"height":244,
"layer":[
{"data":{"name":"c"},"transform":[{"filter":"datum.p=='d' && datum.s==0"}],"mark":{"type":"line","interpolate":"monotone","strokeWidth":3,"clip":true},
"encoding":{"x":{"field":"r","type":"quantitative","scale":{"domain":[0,30],"nice":false},"axis":null},"y":{"field":"g","type":"quantitative","scale":{"domain":[0,3],"nice":false},"axis":null},
"color":{"field":"T","type":"nominal","scale":{"range":["#1a6ee8","#ee2a1c"]},"legend":{"title":null,"orient":"none","legendX":136.5,"legendY":13.5,"symbolType":"M-4,0H4","symbolSize":451.6,"symbolStrokeWidth":3,"symbolDash":[1,0],"labelFontSize":30,"labelAlign":"right","labelOffset":-75.5,"rowPadding":0.5,"padding":0,"labelColor":"#000","labelBaseline":"middle"}}}},
{"data":{"name":"c"},"transform":[{"filter":"datum.p=='d' && datum.s>0"}],"mark":{"type":"line","interpolate":"monotone","strokeWidth":2.4,"strokeDash":[7,5],"clip":true},
"encoding":{"x":{"field":"r","type":"quantitative","axis":{"orient":"bottom","values":[0,5,10,15,20,25,30],"labels":false,"title":null}},
"y":{"field":"g","type":"quantitative","axis":{"orient":"left","values":[0,0.5,1,1.5,2,2.5,3],"format":"~g","title":"g(r)","labelPadding":34,"titlePadding":29}},
"color":{"field":"T","type":"nominal"},"detail":{"field":"s","type":"nominal"}}},
{"data":{"name":"c"},"transform":[{"filter":"datum.p=='d' && datum.s==0"}],"mark":{"type":"line","interpolate":"monotone","strokeWidth":3,"clip":true},
"encoding":{"x":{"field":"r","type":"quantitative","axis":null},"y":{"field":"g","type":"quantitative","axis":null},"color":{"field":"T","type":"nominal"}}},
{"data":{"name":"t"},"transform":[{"filter":"datum.p=='d' && datum.k=='title'"}],"mark":{"type":"text","align":"left","baseline":"middle","fontSize":29},
"encoding":{"x":{"field":"r","type":"quantitative","axis":{"orient":"top","values":[0,5,10,15,20,25,30],"title":"r / Å","labelPadding":27,"titlePadding":17}},"y":{"field":"g","type":"quantitative","axis":{"orient":"right","values":[0,0.5,1,1.5,2,2.5,3],"labels":false,"title":null}},"text":{"field":"t"}}},
{"data":{"name":"t"},"transform":[{"filter":"datum.p=='d' && datum.k=='s'"}],"mark":{"type":"text","align":"center","baseline":"middle","fontSize":23},
"encoding":{"x":{"field":"r","type":"quantitative","axis":null},"y":{"field":"g","type":"quantitative","axis":null},"text":{"field":"t"}}}
],
"resolve":{"axis":{"x":"independent","y":"independent"}}},

{"width":832,"height":235,
"layer":[
{"data":{"name":"c"},"transform":[{"filter":"datum.p=='e' && datum.s==0"}],"mark":{"type":"line","interpolate":"monotone","strokeWidth":3,"clip":true},
"encoding":{"x":{"field":"r","type":"quantitative","scale":{"domain":[0,30],"nice":false},"axis":null},"y":{"field":"g","type":"quantitative","scale":{"domain":[0,2.1],"nice":false},"axis":null},
"color":{"field":"T","type":"nominal","scale":{"range":["#1a6ee8","#ee2a1c"]},"legend":{"title":null,"orient":"none","legendX":155.1,"legendY":13.5,"symbolType":"M-4,0H4","symbolSize":451.6,"symbolStrokeWidth":3,"symbolDash":[1,0],"labelFontSize":30,"labelAlign":"right","labelOffset":-75.5,"rowPadding":0.5,"padding":0,"labelColor":"#000","labelBaseline":"middle"}}}},
{"data":{"name":"c"},"transform":[{"filter":"datum.p=='e' && datum.s>0"}],"mark":{"type":"line","interpolate":"monotone","strokeWidth":2.4,"strokeDash":[7,5],"clip":true},
"encoding":{"x":{"field":"r","type":"quantitative","axis":{"orient":"bottom","values":[0,5,10,15,20,25,30],"labels":false,"title":null}},
"y":{"field":"g","type":"quantitative","axis":{"orient":"left","values":[0,0.5,1,1.5,2],"format":"~g","title":"g(r)","labelPadding":34,"titlePadding":29}},
"color":{"field":"T","type":"nominal"},"detail":{"field":"s","type":"nominal"}}},
{"data":{"name":"c"},"transform":[{"filter":"datum.p=='e' && datum.s==0"}],"mark":{"type":"line","interpolate":"monotone","strokeWidth":3,"clip":true},
"encoding":{"x":{"field":"r","type":"quantitative","axis":null},"y":{"field":"g","type":"quantitative","axis":null},"color":{"field":"T","type":"nominal"}}},
{"data":{"name":"t"},"transform":[{"filter":"datum.p=='e' && datum.k=='title'"}],"mark":{"type":"text","align":"left","baseline":"middle","fontSize":29},
"encoding":{"x":{"field":"r","type":"quantitative","axis":{"orient":"top","values":[0,5,10,15,20,25,30],"labels":false,"title":null}},"y":{"field":"g","type":"quantitative","axis":{"orient":"right","values":[0,0.5,1,1.5,2],"labels":false,"title":null}},"text":{"field":"t"}}},
{"data":{"name":"t"},"transform":[{"filter":"datum.p=='e' && datum.k=='s'"}],"mark":{"type":"text","align":"center","baseline":"middle","fontSize":23},
"encoding":{"x":{"field":"r","type":"quantitative","axis":null},"y":{"field":"g","type":"quantitative","axis":null},"text":{"field":"t"}}}
],
"resolve":{"axis":{"x":"independent","y":"independent"}}},

{"width":832,"height":244,
"layer":[
{"data":{"name":"c"},"transform":[{"filter":"datum.p=='f' && datum.s==0"}],"mark":{"type":"line","interpolate":"monotone","strokeWidth":3,"clip":true},
"encoding":{"x":{"field":"r","type":"quantitative","scale":{"domain":[0,30],"nice":false},"axis":null},"y":{"field":"g","type":"quantitative","scale":{"domain":[0,2.3],"nice":false},"axis":null},
"color":{"field":"T","type":"nominal","scale":{"range":["#1a6ee8","#ee2a1c"]},"legend":{"title":null,"orient":"none","legendX":155.1,"legendY":13.5,"symbolType":"M-4,0H4","symbolSize":451.6,"symbolStrokeWidth":3,"symbolDash":[1,0],"labelFontSize":30,"labelAlign":"right","labelOffset":-75.5,"rowPadding":0.5,"padding":0,"labelColor":"#000","labelBaseline":"middle"}}}},
{"data":{"name":"c"},"transform":[{"filter":"datum.p=='f' && datum.s>0"}],"mark":{"type":"line","interpolate":"monotone","strokeWidth":2.4,"strokeDash":[7,5],"clip":true},
"encoding":{"x":{"field":"r","type":"quantitative","axis":{"orient":"bottom","values":[0,5,10,15,20,25,30],"title":"r / Å","labelPadding":33,"titlePadding":14}},
"y":{"field":"g","type":"quantitative","axis":{"orient":"left","values":[0,0.5,1,1.5,2],"format":"~g","title":"g(r)","labelPadding":34,"titlePadding":29}},
"color":{"field":"T","type":"nominal"},"detail":{"field":"s","type":"nominal"}}},
{"data":{"name":"c"},"transform":[{"filter":"datum.p=='f' && datum.s==0"}],"mark":{"type":"line","interpolate":"monotone","strokeWidth":3,"clip":true},
"encoding":{"x":{"field":"r","type":"quantitative","axis":null},"y":{"field":"g","type":"quantitative","axis":null},"color":{"field":"T","type":"nominal"}}},
{"data":{"name":"t"},"transform":[{"filter":"datum.p=='f' && datum.k=='title'"}],"mark":{"type":"text","align":"left","baseline":"middle","fontSize":29},
"encoding":{"x":{"field":"r","type":"quantitative","axis":{"orient":"top","values":[0,5,10,15,20,25,30],"labels":false,"title":null}},"y":{"field":"g","type":"quantitative","axis":{"orient":"right","values":[0,0.5,1,1.5,2],"labels":false,"title":null}},"text":{"field":"t"}}},
{"data":{"name":"t"},"transform":[{"filter":"datum.p=='f' && datum.k=='s'"}],"mark":{"type":"text","align":"center","baseline":"middle","fontSize":23},
"encoding":{"x":{"field":"r","type":"quantitative","axis":null},"y":{"field":"g","type":"quantitative","axis":null},"text":{"field":"t"}}}
],
"resolve":{"axis":{"x":"independent","y":"independent"}}}
],
"resolve":{"scale":{"color":"independent"}},
"config":{
"font":"Liberation Sans",
"view":{"stroke":"#000","strokeWidth":1.5},
"axis":{"domain":false,"grid":false,"tickSize":-13,"tickColor":"#222","tickWidth":1.2,"labelFontSize":27,"labelColor":"#000","titleFontSize":29,"titleFontWeight":"normal","titleColor":"#000","labelFlush":false,"labelOverlap":false},
"text":{"color":"#000"}
}
}
